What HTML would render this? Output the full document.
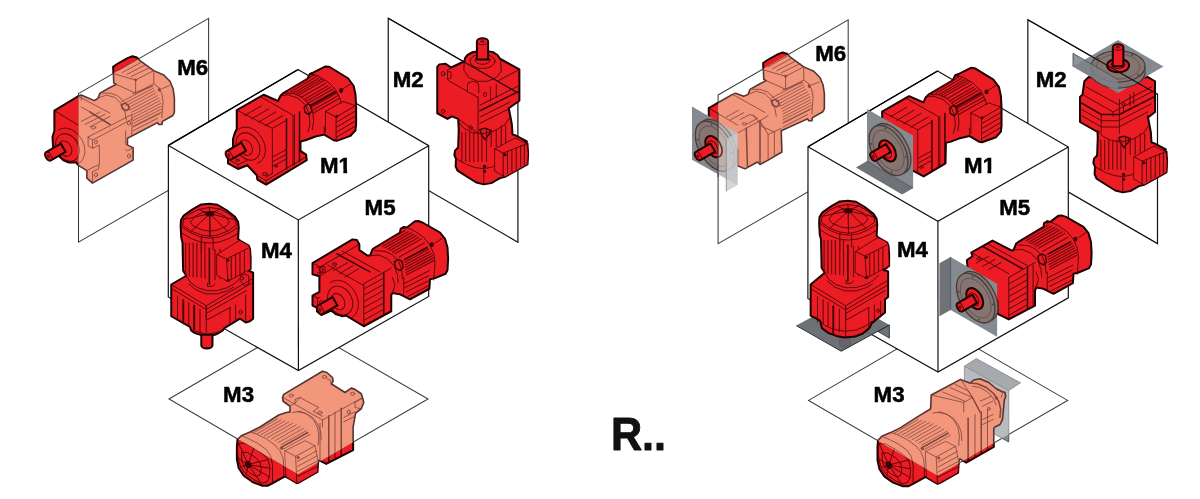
<!DOCTYPE html>
<html lang="en">
<head>
<meta charset="utf-8">
<title>R.. mounting positions M1–M6</title>
<style>
html,body{margin:0;padding:0;background:#fff;}
body{width:1200px;height:499px;overflow:hidden;position:relative;font-family:"Liberation Sans",Arial,sans-serif;}
svg{position:absolute;left:0;top:0;display:block;}
.ln6{fill:none;stroke:#3a3a3a;stroke-width:1.05;}
.lnb{fill:none;stroke:#000;stroke-width:1.3;}
.ln{fill:none;stroke:#111;stroke-width:1.2;stroke-linejoin:miter;}
.cube{fill:#fff;stroke:#111;stroke-width:1.2;}
.wh{fill:#fff;stroke:none;}
.ln2{fill:none;stroke:#333;stroke-width:.9;}
.wl{fill:#858a90;stroke:none;}
.ws{fill:#6f7276;stroke:none;}
.fd{fill:#85746f;stroke:#453c3c;stroke-width:1.3;}
.ns{stroke:none;}
.wl9{fill:#64686d;fill-opacity:.94;stroke:none;}
.ws3{fill:#a9adb2;stroke:#6e7176;stroke-width:.6;}
.sal .ws3{fill:#a6a9ad;}
.ws2{fill:#7e8288;fill-opacity:.85;stroke:none;}
.so{stroke:#222;stroke-width:.8;}
.wo{fill:none;stroke:#222;stroke-width:.9;}
.wo2{fill:none;stroke:#4c5055;stroke-width:.9;}
.sal .wo2{stroke:#8d9094;}
.sal .ws2{fill:#c9cacc;fill-opacity:.8;}
.fl{fill:none;stroke:#5a5050;stroke-width:.8;}
.fh{fill:#4a4040;stroke:none;}
.sal .rf{fill:#f2967c;stroke:#8a4a42;stroke-width:.8;}
.sal .wl{fill:#b9bbbe;}
.sal .ws{fill:#c3c4c6;}
.sal .fd{fill:#bdb0ad;stroke:#8a8080;}
.sal .fl{stroke:#9a9090;}
.sal .r{fill:#f2967c;stroke:#553434;stroke-width:1.6;}
.sal .d{stroke:#7d433b;stroke-width:.8;}
.sal .d2{stroke:#7a4640;}
.sal .dk{fill:#8a4a42;}
.lb{font-family:"Liberation Sans",Arial,sans-serif;font-weight:700;font-size:22.8px;fill:#000;stroke:#000;stroke-width:.55px;stroke-linejoin:round;}
.big{font-family:"Liberation Sans",Arial,sans-serif;font-weight:700;font-size:46px;fill:#111;stroke:#111;stroke-width:.9px;stroke-linejoin:round;}
.r{fill:#ec1c24;stroke:#1c0000;stroke-width:2;stroke-linejoin:round;stroke-linecap:round;}
.rf{fill:#ec1c24;stroke:#4a0508;stroke-width:.8;stroke-linejoin:round;stroke-linecap:round;}
.d{fill:none;stroke:#4a0508;stroke-width:.9;stroke-linejoin:round;stroke-linecap:round;}
.fn{fill:none;stroke:#6e080c;stroke-width:1.15;stroke-linecap:round;}
.sal .fn{stroke:#a05a4e;stroke-width:1;}
.d2{fill:none;stroke:#3a0306;stroke-width:1.5;stroke-linecap:round;}
.dk{fill:#3a0306;stroke:none;}
.o{fill:none;stroke:#1e0000;stroke-width:1.8;stroke-linejoin:round;stroke-linecap:round;}
.gp{fill:#8c8c8c;fill-opacity:.75;stroke:#444;stroke-width:.6;}
.gd{fill:#9a8f8f;stroke:#3a3030;stroke-width:.8;}
</style>
</head>
<body>
<svg width="1200" height="499" viewBox="0 0 1200 499">
<rect x="0" y="0" width="1200" height="499" fill="#fff"/>
<g transform="translate(0,0)">
<polygon points="78.5,93.6 208.6,18.4 208.6,167.2 78.5,242.2" class="ln6" />
<polygon points="388.25,18.25 517.9,92.9 517.9,242.2 388.25,167.2" class="ln" />
<polygon points="169,399 298,324 428,399 298,474" class="ln6" />
<clipPath id="c6L"><polygon points="78.5,93.6 208.6,18.4 208.6,167.2 78.5,242.2" class="" /></clipPath>
<clipPath id="c3L"><polygon points="169,399 298,324 428,399 298,474" class="" /></clipPath>
<clipPath id="o6L"><path clip-rule="evenodd" d="M-700 -50H1300V600H-700Z M78.5 93.6 L208.6 18.4 L208.6 167.2 L78.5 242.2Z"/></clipPath>
<clipPath id="o3L"><path clip-rule="evenodd" d="M-700 -50H1300V600H-700Z M169 399 L298 324 L428 399 L298 474Z"/></clipPath>
<g clip-path="url(#o6L)"><g ><path class="r" d="M98.12 98.12 L100 93.12 L110 87.5 L116.25 84.38 L113.75 83.12 L113.12 66.88 L117.5 63.75 L127.5 58.12 L132.5 56.25 L136.88 57.5 L140 60.62 L153.75 70.62 L163.75 75 L170 81.25 L173.12 88.75 L174.38 97.5 L174.38 112 L173.75 113.88 L172.5 115.75 L162.5 121.38 L161.88 124.5 L158.75 124.5 L157.5 122.62 L127.5 138.25 L127.5 145.12 L133.12 147.62 L133.12 160.12 L92.5 183.12 L86.88 178.12 L86.88 170.62 L78.75 165.62 L76.25 162.5 L68.75 162.5 L63.12 160 L57.5 154.5 L53.12 147.62 L52.5 137 L54.38 130.75 L54.38 110.62 L78.12 96.25 L81.25 95 L94.38 100.62 Z"/>
<path class="d" d="M113.75 73.75 L135.62 80 L153.75 70.62"/>
<path class="d" d="M135.62 80 L135.62 93.12"/>
<path class="d" d="M116.25 84.38 L135.62 93.12 L153.75 83.75 L153.75 70.62"/>
<path class="d" d="M118.12 70.62 L136.88 60"/>
<path class="d" d="M122.5 72.5 L141.25 62.25"/>
<path class="d" d="M126.88 74.38 L145.62 64.75"/>
<path class="d" d="M131.25 76.5 L150 67.5"/>
<ellipse class="dk" cx="135.62" cy="80" rx="1.4" ry="1.4" transform="rotate(0 135.62 80)"/>
<path class="d" d="M153.75 83.75 L158.75 87.5 L161.88 93.75 L163.12 101.25 L162.5 108.75 L161.88 117.5"/>
<path class="d" d="M161.88 88.75 L169.38 85.62"/>
<ellipse class="dk" cx="159.38" cy="89.75" rx="1.6" ry="2" transform="rotate(0 159.38 89.75)"/>
<path class="fn" d="M121.25 101.88 L152.5 85.62"/>
<path class="fn" d="M123.75 103.75 L153.44 88.12"/>
<path class="fn" d="M126.25 105.62 L154.38 90.62"/>
<path class="fn" d="M128.12 107.81 L155.94 93.12"/>
<path class="fn" d="M130 110 L157.5 95.62"/>
<path class="fn" d="M131.25 112.5 L158.75 98.12"/>
<path class="fn" d="M132.5 115 L160 100.62"/>
<path class="fn" d="M132.81 117.81 L160.62 103.44"/>
<path class="fn" d="M133.12 120.62 L161.25 106.25"/>
<path class="fn" d="M133.12 123.44 L161.56 109.06"/>
<path class="fn" d="M133.12 126.25 L161.88 111.88"/>
<path class="d" d="M132.5 93.75 L152.5 86.25"/>
<path class="d2" d="M121.25 105 L125 103.12 L128.12 105 L129.38 108.75 L126.25 110.62 L122.5 108.75 Z"/>
<path class="d" d="M98.12 98.12 L106.25 95 L115 97.5 L121.25 103.75 L125 112.5 L126.25 120"/>
<path class="d" d="M102.5 93.12 L110 93.12 L117.5 95.62 L123.75 101.25"/>
<path class="d" d="M133.12 130.75 L157.5 118.25"/>
<path class="d" d="M133.12 127 L160 113.5"/>
<path class="d" d="M54.38 110.62 L78.12 125"/>
<path class="d" d="M78.12 96.25 L110 113.12"/>
<path class="d" d="M81.25 95 L81.25 100"/>
<path class="d" d="M88.12 137 L131.88 114.5 L131.88 135.75 L127.5 138.25"/>
<path class="d" d="M88.12 137 L92.5 140.12 L92.5 148.25 L99.38 145.12 L99.38 164.5"/>
<path class="d" d="M92.5 140.12 L132.5 118.88"/>
<path class="d" d="M88.12 137 L88.12 145.75 L92.5 148.25"/>
<path class="d" d="M86.88 170.62 L93.75 166.88 L98.75 165"/>
<path class="d" d="M92.5 171.88 L98.75 168.75 L98.75 165"/>
<path class="d" d="M92.5 171.88 L92.5 183.12"/>
<ellipse class="d" cx="96" cy="142" rx="1.5" ry="2" transform="rotate(20 96 142)"/>
<ellipse class="d" cx="129" cy="123.25" rx="1.5" ry="2" transform="rotate(20 129 123.25)"/>
<ellipse class="d" cx="129" cy="156" rx="1.5" ry="2" transform="rotate(20 129 156)"/>
<ellipse class="d" cx="96" cy="175" rx="1.5" ry="2" transform="rotate(20 96 175)"/>
<ellipse class="d" cx="93.5" cy="127.62" rx="2.2" ry="1.4" transform="rotate(0 93.5 127.62)"/>
<path class="d" d="M127.5 145.12 L125.62 144.25 L125.62 130.75"/>
<path class="d" d="M133.12 147.62 L127.5 150.75 L125.62 149.5"/>
<path class="d" d="M81.25 121.38 L100 112"/>
<path class="d" d="M85 124.5 L105 114.25"/>
<path class="d" d="M90 126.75 L110 116.38"/>
<path class="d2" d="M90 112 L110 124.5"/>
<path class="d" d="M81.25 107 L90 112"/>
<path class="d" d="M58.19 130.31 L60.3 129.08 L62.65 128.35 L65.19 128.12 L67.83 128.42 L70.5 129.23 L73.13 130.53 L75.65 132.28 L77.98 134.43 L80.05 136.93 L81.81 139.69 L83.21 142.65 L84.2 145.72 L84.77 148.81 L84.89 151.83 L84.56 154.7 L83.78 157.35 L82.6 159.68 L81.02 161.64 L79.11 163.17 L76.91 164.23"/>
<ellipse class="d" cx="67.5" cy="147.5" rx="14.5" ry="11" transform="rotate(60 67.5 147.5)"/>
<ellipse class="d" cx="65.3" cy="148.6" rx="8.2" ry="6" transform="rotate(60 65.3 148.6)"/>
<path class="r" d="M50.90 160.41 L65.62 151.91 L60.82 143.59 L46.10 152.09 A4.8 2.7696 60.0 0 0 50.90 160.41Z"/>
<ellipse class="d" cx="48.5" cy="156.25" rx="4.8" ry="2.7696" transform="rotate(59.9993 48.5 156.25)"/>
<ellipse class="d" cx="48.5" cy="156.25" rx="1.344" ry="0.775488" transform="rotate(59.9993 48.5 156.25)"/></g></g>
<g class="sal" clip-path="url(#c6L)"><g ><path class="r" d="M98.12 98.12 L100 93.12 L110 87.5 L116.25 84.38 L113.75 83.12 L113.12 66.88 L117.5 63.75 L127.5 58.12 L132.5 56.25 L136.88 57.5 L140 60.62 L153.75 70.62 L163.75 75 L170 81.25 L173.12 88.75 L174.38 97.5 L174.38 112 L173.75 113.88 L172.5 115.75 L162.5 121.38 L161.88 124.5 L158.75 124.5 L157.5 122.62 L127.5 138.25 L127.5 145.12 L133.12 147.62 L133.12 160.12 L92.5 183.12 L86.88 178.12 L86.88 170.62 L78.75 165.62 L76.25 162.5 L68.75 162.5 L63.12 160 L57.5 154.5 L53.12 147.62 L52.5 137 L54.38 130.75 L54.38 110.62 L78.12 96.25 L81.25 95 L94.38 100.62 Z"/>
<path class="d" d="M113.75 73.75 L135.62 80 L153.75 70.62"/>
<path class="d" d="M135.62 80 L135.62 93.12"/>
<path class="d" d="M116.25 84.38 L135.62 93.12 L153.75 83.75 L153.75 70.62"/>
<path class="d" d="M118.12 70.62 L136.88 60"/>
<path class="d" d="M122.5 72.5 L141.25 62.25"/>
<path class="d" d="M126.88 74.38 L145.62 64.75"/>
<path class="d" d="M131.25 76.5 L150 67.5"/>
<ellipse class="dk" cx="135.62" cy="80" rx="1.4" ry="1.4" transform="rotate(0 135.62 80)"/>
<path class="d" d="M153.75 83.75 L158.75 87.5 L161.88 93.75 L163.12 101.25 L162.5 108.75 L161.88 117.5"/>
<path class="d" d="M161.88 88.75 L169.38 85.62"/>
<ellipse class="dk" cx="159.38" cy="89.75" rx="1.6" ry="2" transform="rotate(0 159.38 89.75)"/>
<path class="fn" d="M121.25 101.88 L152.5 85.62"/>
<path class="fn" d="M123.75 103.75 L153.44 88.12"/>
<path class="fn" d="M126.25 105.62 L154.38 90.62"/>
<path class="fn" d="M128.12 107.81 L155.94 93.12"/>
<path class="fn" d="M130 110 L157.5 95.62"/>
<path class="fn" d="M131.25 112.5 L158.75 98.12"/>
<path class="fn" d="M132.5 115 L160 100.62"/>
<path class="fn" d="M132.81 117.81 L160.62 103.44"/>
<path class="fn" d="M133.12 120.62 L161.25 106.25"/>
<path class="fn" d="M133.12 123.44 L161.56 109.06"/>
<path class="fn" d="M133.12 126.25 L161.88 111.88"/>
<path class="d" d="M132.5 93.75 L152.5 86.25"/>
<path class="d2" d="M121.25 105 L125 103.12 L128.12 105 L129.38 108.75 L126.25 110.62 L122.5 108.75 Z"/>
<path class="d" d="M98.12 98.12 L106.25 95 L115 97.5 L121.25 103.75 L125 112.5 L126.25 120"/>
<path class="d" d="M102.5 93.12 L110 93.12 L117.5 95.62 L123.75 101.25"/>
<path class="d" d="M133.12 130.75 L157.5 118.25"/>
<path class="d" d="M133.12 127 L160 113.5"/>
<path class="d" d="M54.38 110.62 L78.12 125"/>
<path class="d" d="M78.12 96.25 L110 113.12"/>
<path class="d" d="M81.25 95 L81.25 100"/>
<path class="d" d="M88.12 137 L131.88 114.5 L131.88 135.75 L127.5 138.25"/>
<path class="d" d="M88.12 137 L92.5 140.12 L92.5 148.25 L99.38 145.12 L99.38 164.5"/>
<path class="d" d="M92.5 140.12 L132.5 118.88"/>
<path class="d" d="M88.12 137 L88.12 145.75 L92.5 148.25"/>
<path class="d" d="M86.88 170.62 L93.75 166.88 L98.75 165"/>
<path class="d" d="M92.5 171.88 L98.75 168.75 L98.75 165"/>
<path class="d" d="M92.5 171.88 L92.5 183.12"/>
<ellipse class="d" cx="96" cy="142" rx="1.5" ry="2" transform="rotate(20 96 142)"/>
<ellipse class="d" cx="129" cy="123.25" rx="1.5" ry="2" transform="rotate(20 129 123.25)"/>
<ellipse class="d" cx="129" cy="156" rx="1.5" ry="2" transform="rotate(20 129 156)"/>
<ellipse class="d" cx="96" cy="175" rx="1.5" ry="2" transform="rotate(20 96 175)"/>
<ellipse class="d" cx="93.5" cy="127.62" rx="2.2" ry="1.4" transform="rotate(0 93.5 127.62)"/>
<path class="d" d="M127.5 145.12 L125.62 144.25 L125.62 130.75"/>
<path class="d" d="M133.12 147.62 L127.5 150.75 L125.62 149.5"/>
<path class="d" d="M81.25 121.38 L100 112"/>
<path class="d" d="M85 124.5 L105 114.25"/>
<path class="d" d="M90 126.75 L110 116.38"/>
<path class="d2" d="M90 112 L110 124.5"/>
<path class="d" d="M81.25 107 L90 112"/>
<path class="d" d="M58.19 130.31 L60.3 129.08 L62.65 128.35 L65.19 128.12 L67.83 128.42 L70.5 129.23 L73.13 130.53 L75.65 132.28 L77.98 134.43 L80.05 136.93 L81.81 139.69 L83.21 142.65 L84.2 145.72 L84.77 148.81 L84.89 151.83 L84.56 154.7 L83.78 157.35 L82.6 159.68 L81.02 161.64 L79.11 163.17 L76.91 164.23"/>
<ellipse class="d" cx="67.5" cy="147.5" rx="14.5" ry="11" transform="rotate(60 67.5 147.5)"/>
<ellipse class="d" cx="65.3" cy="148.6" rx="8.2" ry="6" transform="rotate(60 65.3 148.6)"/>
<path class="r" d="M50.90 160.41 L65.62 151.91 L60.82 143.59 L46.10 152.09 A4.8 2.7696 60.0 0 0 50.90 160.41Z"/>
<ellipse class="d" cx="48.5" cy="156.25" rx="4.8" ry="2.7696" transform="rotate(59.9993 48.5 156.25)"/>
<ellipse class="d" cx="48.5" cy="156.25" rx="1.344" ry="0.775488" transform="rotate(59.9993 48.5 156.25)"/></g></g>
<g clip-path="url(#o3L)"><g ><path class="r" d="M286.25 412.5 L290 411.88 L290 406.25 L283.12 401.25 L282.5 397.5 L283.75 394.38 L322.5 371.25 L326.88 372.5 L332.5 377.5 L333.12 381.25 L331.25 383.75 L345 392.5 L351.25 388.12 L355 389.38 L361.25 393.75 L362.5 397.5 L363.75 402.5 L361.25 408.75 L355.62 413.12 L353.12 427 L353.12 450.12 L326.25 463.88 L318.75 460.12 L318.12 461.38 L317.5 472 L300 482 L296.88 483.25 L286.25 477 L285 476.38 L272.5 483.25 L267.5 485.75 L262.5 485.75 L252.5 482 L243.75 475.75 L238.75 468.25 L236.88 459.5 L236.88 445.75 L237.5 439.5 L241.25 435.75 L250 432 L260 427 L278.75 415 Z"/>
<path class="d" d="M283.12 397.5 L322.5 420 L362.5 397.5"/>
<path class="d" d="M322.5 420 L322.5 427"/>
<path class="d" d="M290 406.25 L295 403.12 L300 397.5 L318.75 407.5 L313.12 411.25 L322.5 416.25"/>
<path class="d" d="M295 403.12 L295 399.38 L300 397.5"/>
<ellipse class="d" cx="291.25" cy="395.62" rx="2.2" ry="1.4" transform="rotate(0 291.25 395.62)"/>
<ellipse class="d" cx="324.38" cy="376.88" rx="2.2" ry="1.4" transform="rotate(0 324.38 376.88)"/>
<ellipse class="d" cx="352.5" cy="393.75" rx="2.2" ry="1.4" transform="rotate(0 352.5 393.75)"/>
<ellipse class="d" cx="320" cy="412.5" rx="2.2" ry="1.4" transform="rotate(0 320 412.5)"/>
<ellipse class="d" cx="348.75" cy="411.88" rx="1.5" ry="2" transform="rotate(20 348.75 411.88)"/>
<path class="d" d="M326.88 378.75 L330.62 380.62 L331.25 383.75"/>
<path class="d" d="M355 402.5 L362.5 398.12"/>
<path class="d" d="M355 402.5 L355 407.5 L361.25 408.75"/>
<path class="d2" d="M328.75 415.75 L328.75 462"/>
<path class="d" d="M335 412 L335 458.88"/>
<path class="d2" d="M341.25 408.25 L341.25 455.75"/>
<path class="d" d="M320 423.25 L320 459.5"/>
<path class="d" d="M343.75 417.5 L355 411.88"/>
<path class="d" d="M343.75 421.88 L355 416.25"/>
<path class="d" d="M292.5 412.5 L300 411.25 L307.5 414.38 L313.75 420 L317.5 427.5 L318.75 435 L318.12 445"/>
<path class="d" d="M297.5 411.88 L305 413.12 L312.5 417.5 L317.5 423.75 L320.62 431.25 L321.25 440"/>
<path class="fn" d="M253.75 432.62 L277.5 418.88"/>
<path class="fn" d="M257.5 433.56 L281.25 419.81"/>
<path class="fn" d="M261.25 434.5 L285 420.75"/>
<path class="fn" d="M264.38 436.06 L288.75 422"/>
<path class="fn" d="M267.5 437.62 L292.5 423.25"/>
<path class="fn" d="M271.25 439.19 L296.25 424.81"/>
<path class="fn" d="M275 440.75 L300 426.38"/>
<path class="fn" d="M278.12 442.62 L303.12 428.56"/>
<path class="fn" d="M281.25 444.5 L306.25 430.75"/>
<path class="fn" d="M282.5 446.69 L308.12 432.62"/>
<path class="fn" d="M283.75 448.88 L310 434.5"/>
<path class="d2" d="M280.62 447.62 L307.5 432.62"/>
<path class="d" d="M248.12 464.5 L238.75 443.25"/>
<path class="d" d="M248.12 464.5 L253.75 448.25"/>
<path class="d" d="M248.12 464.5 L268.12 459.5"/>
<path class="d" d="M248.12 464.5 L269.38 477"/>
<path class="d" d="M248.12 464.5 L261.25 483.25"/>
<path class="d" d="M248.12 464.5 L246.25 474.5"/>
<path class="d" d="M248.12 464.5 L238.12 458.25"/>
<path class="d" d="M248.12 464.5 L270 468.25"/>
<path class="d" d="M248.12 464.5 L240.62 467"/>
<path class="d" d="M238.75 443.25 L245 443.25 L253.75 448.25 L262.5 453.88 L268.12 459.5 L270 468.25 L269.38 477 L266.88 482 L261.25 483.25 L253.75 479.5 L246.25 474.5 L240.62 467 L238.12 458.25 L237.5 449.5 Z"/>
<path class="d" d="M241.88 452 L247.5 452.62 L255 457 L260 462.62 L261.25 469.5 L260 475.12 L256.25 476.38 L250 473.25 L245 468.25 L241.88 461.38 Z"/>
<ellipse class="dk" cx="248.12" cy="464.5" rx="3.2" ry="3.8" transform="rotate(-20 248.12 464.5)"/>
<path class="d" d="M241.25 435.75 L247.5 438.25 L257.5 443.25 L266.25 449.5 L270.62 455.75 L272.5 464.5 L272.5 483.25"/>
<path class="d" d="M250 432 L256.25 433.88 L266.25 438.88 L275 445.12 L280 450.75 L283.12 458.25 L283.75 467 L283.75 477"/>
<path class="rf" d="M285 450.75 L305 440.75 L315 445.75 L318.12 461.38 L317.5 472 L300 482 L296.88 483.25 L286.25 477 Z"/>
<path class="d" d="M285 450.75 L295.62 456.38 L315 445.75"/>
<path class="d" d="M295.62 456.38 L296.88 483.25"/>
<path class="d" d="M297.5 461.38 L316.88 450.75"/>
<path class="d" d="M297.5 466.38 L317.25 455.75"/>
<path class="d" d="M297.5 471.38 L317.5 461"/>
<path class="d" d="M297.5 476.38 L317.5 466.38"/>
<ellipse class="dk" cx="298.12" cy="457.38" rx="1.5" ry="1.5" transform="rotate(0 298.12 457.38)"/>
<ellipse class="dk" cx="281.88" cy="448.25" rx="1.5" ry="1.5" transform="rotate(0 281.88 448.25)"/></g></g>
<g class="sal" clip-path="url(#c3L)"><g ><path class="r" d="M286.25 412.5 L290 411.88 L290 406.25 L283.12 401.25 L282.5 397.5 L283.75 394.38 L322.5 371.25 L326.88 372.5 L332.5 377.5 L333.12 381.25 L331.25 383.75 L345 392.5 L351.25 388.12 L355 389.38 L361.25 393.75 L362.5 397.5 L363.75 402.5 L361.25 408.75 L355.62 413.12 L353.12 427 L353.12 450.12 L326.25 463.88 L318.75 460.12 L318.12 461.38 L317.5 472 L300 482 L296.88 483.25 L286.25 477 L285 476.38 L272.5 483.25 L267.5 485.75 L262.5 485.75 L252.5 482 L243.75 475.75 L238.75 468.25 L236.88 459.5 L236.88 445.75 L237.5 439.5 L241.25 435.75 L250 432 L260 427 L278.75 415 Z"/>
<path class="d" d="M283.12 397.5 L322.5 420 L362.5 397.5"/>
<path class="d" d="M322.5 420 L322.5 427"/>
<path class="d" d="M290 406.25 L295 403.12 L300 397.5 L318.75 407.5 L313.12 411.25 L322.5 416.25"/>
<path class="d" d="M295 403.12 L295 399.38 L300 397.5"/>
<ellipse class="d" cx="291.25" cy="395.62" rx="2.2" ry="1.4" transform="rotate(0 291.25 395.62)"/>
<ellipse class="d" cx="324.38" cy="376.88" rx="2.2" ry="1.4" transform="rotate(0 324.38 376.88)"/>
<ellipse class="d" cx="352.5" cy="393.75" rx="2.2" ry="1.4" transform="rotate(0 352.5 393.75)"/>
<ellipse class="d" cx="320" cy="412.5" rx="2.2" ry="1.4" transform="rotate(0 320 412.5)"/>
<ellipse class="d" cx="348.75" cy="411.88" rx="1.5" ry="2" transform="rotate(20 348.75 411.88)"/>
<path class="d" d="M326.88 378.75 L330.62 380.62 L331.25 383.75"/>
<path class="d" d="M355 402.5 L362.5 398.12"/>
<path class="d" d="M355 402.5 L355 407.5 L361.25 408.75"/>
<path class="d2" d="M328.75 415.75 L328.75 462"/>
<path class="d" d="M335 412 L335 458.88"/>
<path class="d2" d="M341.25 408.25 L341.25 455.75"/>
<path class="d" d="M320 423.25 L320 459.5"/>
<path class="d" d="M343.75 417.5 L355 411.88"/>
<path class="d" d="M343.75 421.88 L355 416.25"/>
<path class="d" d="M292.5 412.5 L300 411.25 L307.5 414.38 L313.75 420 L317.5 427.5 L318.75 435 L318.12 445"/>
<path class="d" d="M297.5 411.88 L305 413.12 L312.5 417.5 L317.5 423.75 L320.62 431.25 L321.25 440"/>
<path class="fn" d="M253.75 432.62 L277.5 418.88"/>
<path class="fn" d="M257.5 433.56 L281.25 419.81"/>
<path class="fn" d="M261.25 434.5 L285 420.75"/>
<path class="fn" d="M264.38 436.06 L288.75 422"/>
<path class="fn" d="M267.5 437.62 L292.5 423.25"/>
<path class="fn" d="M271.25 439.19 L296.25 424.81"/>
<path class="fn" d="M275 440.75 L300 426.38"/>
<path class="fn" d="M278.12 442.62 L303.12 428.56"/>
<path class="fn" d="M281.25 444.5 L306.25 430.75"/>
<path class="fn" d="M282.5 446.69 L308.12 432.62"/>
<path class="fn" d="M283.75 448.88 L310 434.5"/>
<path class="d2" d="M280.62 447.62 L307.5 432.62"/>
<path class="d" d="M248.12 464.5 L238.75 443.25"/>
<path class="d" d="M248.12 464.5 L253.75 448.25"/>
<path class="d" d="M248.12 464.5 L268.12 459.5"/>
<path class="d" d="M248.12 464.5 L269.38 477"/>
<path class="d" d="M248.12 464.5 L261.25 483.25"/>
<path class="d" d="M248.12 464.5 L246.25 474.5"/>
<path class="d" d="M248.12 464.5 L238.12 458.25"/>
<path class="d" d="M248.12 464.5 L270 468.25"/>
<path class="d" d="M248.12 464.5 L240.62 467"/>
<path class="d" d="M238.75 443.25 L245 443.25 L253.75 448.25 L262.5 453.88 L268.12 459.5 L270 468.25 L269.38 477 L266.88 482 L261.25 483.25 L253.75 479.5 L246.25 474.5 L240.62 467 L238.12 458.25 L237.5 449.5 Z"/>
<path class="d" d="M241.88 452 L247.5 452.62 L255 457 L260 462.62 L261.25 469.5 L260 475.12 L256.25 476.38 L250 473.25 L245 468.25 L241.88 461.38 Z"/>
<ellipse class="dk" cx="248.12" cy="464.5" rx="3.2" ry="3.8" transform="rotate(-20 248.12 464.5)"/>
<path class="d" d="M241.25 435.75 L247.5 438.25 L257.5 443.25 L266.25 449.5 L270.62 455.75 L272.5 464.5 L272.5 483.25"/>
<path class="d" d="M250 432 L256.25 433.88 L266.25 438.88 L275 445.12 L280 450.75 L283.12 458.25 L283.75 467 L283.75 477"/>
<path class="rf" d="M285 450.75 L305 440.75 L315 445.75 L318.12 461.38 L317.5 472 L300 482 L296.88 483.25 L286.25 477 Z"/>
<path class="d" d="M285 450.75 L295.62 456.38 L315 445.75"/>
<path class="d" d="M295.62 456.38 L296.88 483.25"/>
<path class="d" d="M297.5 461.38 L316.88 450.75"/>
<path class="d" d="M297.5 466.38 L317.25 455.75"/>
<path class="d" d="M297.5 471.38 L317.5 461"/>
<path class="d" d="M297.5 476.38 L317.5 466.38"/>
<ellipse class="dk" cx="298.12" cy="457.38" rx="1.5" ry="1.5" transform="rotate(0 298.12 457.38)"/>
<ellipse class="dk" cx="281.88" cy="448.25" rx="1.5" ry="1.5" transform="rotate(0 281.88 448.25)"/></g></g>
<polygon points="298,69.6 428.7,145.7 428.7,296.4 298.4,370.6 168.3,297 168.4,145.4" class="cube" />
<polyline points="168.4,145.4 298.3,219.9 428.7,145.7" class="ln" />
<polyline points="298.3,219.9 298.4,370.6" class="ln" />
<polyline points="168.4,145.4 298,69.6" class="lnb" />
<g ><path class="r" d="M464.38 61.25 L451.25 67.5 L445.62 63.75 L439.38 64.38 L437.25 66.88 L437.25 113.25 L447.5 118.88 L451.88 116.38 L458.12 118.88 L458.75 129.5 L458.12 147.5 L455 150.62 L454.38 155 L456 158.75 L455.62 166.25 L457.5 170.62 L466.25 176.25 L476.25 182.5 L483.75 184.38 L491.25 183.12 L500 178.12 L505 176.88 L527.5 164.38 L528.12 153.75 L527.5 143.75 L525 141.25 L526.88 141.38 L515 135.12 L512.5 134.5 L511.88 124.5 L510 114.5 L508.75 108.25 L519.38 100.75 L519.38 69.38 L500 58.75 L497.5 55 L492.5 51.88 L482.5 50.62 L472.5 52.25 L467.5 55 L465 58.12 Z"/>
<path class="d" d="M464.38 61.25 L463.75 70 L468.75 77.5 L477.5 81.25 L487.5 81.25 L496.25 77.5 L501.25 71.25 L500.62 60"/>
<ellipse class="d" cx="482.5" cy="61.25" rx="12.5" ry="7.2" transform="rotate(0 482.5 61.25)"/>
<ellipse class="d" cx="482.5" cy="60" rx="7.5" ry="4.3" transform="rotate(0 482.5 60)"/>
<path class="d" d="M451.25 67.5 L447.5 70 L447.5 80 L478.12 97.5"/>
<path class="d" d="M519.38 69.38 L497.5 81.25"/>
<path class="d" d="M447.5 72.5 L450 71.25 L451.25 73.75 L450.62 78.12 L448.12 79.38"/>
<ellipse class="d" cx="443.12" cy="73.75" rx="1.8" ry="2.2" transform="rotate(0 443.12 73.75)"/>
<path class="d" d="M478.12 97 L478.12 133.25"/>
<path class="d" d="M478.12 133.25 L458.12 118.88"/>
<ellipse class="d" cx="443.12" cy="111.38" rx="1.6" ry="2" transform="rotate(0 443.12 111.38)"/>
<ellipse class="d" cx="470.62" cy="127.62" rx="1.6" ry="2" transform="rotate(0 470.62 127.62)"/>
<ellipse class="d" cx="485" cy="94.5" rx="1.6" ry="2" transform="rotate(0 485 94.5)"/>
<path class="d" d="M467.5 85 L468.75 82.5 L473.75 81.25 L478.12 83.12 L478.75 87.5 L478.75 92.5"/>
<path class="d" d="M467.5 85 L467.5 92"/>
<path class="d2" d="M480 110.75 L518.75 91.38"/>
<path class="d" d="M480 105.12 L517.5 86.38"/>
<path class="d" d="M480 117 L510 102"/>
<path class="d" d="M480 123.25 L508.75 108.88"/>
<path class="d" d="M490.62 87 L490.62 100.75"/>
<path class="d" d="M496.25 84.5 L496.25 97.62"/>
<path class="d" d="M458.75 122 L463.75 128.25 L472.5 132.62 L482.5 133.88 L495 130.75 L505 124.5 L510 117"/>
<path class="d2" d="M480 129.5 L485 128.25 L490 130.12 L490 133.25 L485 139.5 L481.25 134.5 Z"/>
<path class="fn" d="M461.88 132 L461.88 161.5"/>
<path class="fn" d="M465.62 132 L465.62 161.5"/>
<path class="fn" d="M469.75 132 L469.75 161.5"/>
<path class="fn" d="M473.75 132 L473.75 161.5"/>
<path class="fn" d="M478.12 132 L478.12 161.5"/>
<path class="fn" d="M481.88 132 L481.88 161.5"/>
<path class="fn" d="M486.5 129.5 L486.5 161.5"/>
<path class="fn" d="M491.25 129.5 L491.25 146.5"/>
<path class="fn" d="M496.25 129.5 L496.25 146.5"/>
<path class="fn" d="M501.25 125.75 L501.25 146.5"/>
<path class="fn" d="M505.62 125.75 L505.62 146.5"/>
<path class="d" d="M456 158.75 L466.25 164.38 L475 167.5 L483.75 168.75 L492.5 166.88 L495 165"/>
<path class="d" d="M483.75 168.75 L483.75 183.75"/>
<ellipse class="dk" cx="484.62" cy="166.5" rx="1.8" ry="1.8" transform="rotate(0 484.62 166.5)"/>
<ellipse class="dk" cx="484.62" cy="171.25" rx="1.5" ry="1.5" transform="rotate(0 484.62 171.25)"/>
<path class="rf" d="M495 148.75 L515 138.12 L526.88 143.75 L528.12 153.75 L527.5 164.38 L505 176.88 L495 171.25 Z"/>
<path class="d" d="M495 148.75 L503.12 153.12 L526.88 143.75"/>
<path class="d" d="M503.12 153.12 L503.12 175.62"/>
<path class="d" d="M507.5 151.29 L507.5 173.72"/>
<path class="d" d="M511.88 149.45 L511.88 171.45"/>
<path class="d" d="M516.25 147.61 L516.25 169.18"/>
<path class="d" d="M520.62 145.78 L520.62 166.9"/>
<path class="d" d="M524.38 144.2 L524.38 164.95"/>
<ellipse class="dk" cx="505" cy="154.75" rx="1.6" ry="1.6" transform="rotate(0 505 154.75)"/>
<path class="r" d="M476.90 41.50 L476.90 59.50 L488.10 59.50 L488.10 41.50 A5.6 3.2312 180.0 0 0 476.90 41.50Z"/>
<ellipse class="d" cx="482.5" cy="41.5" rx="5.6" ry="3.2312" transform="rotate(180 482.5 41.5)"/>
<ellipse class="d" cx="482.5" cy="41.5" rx="1.568" ry="0.904736" transform="rotate(180 482.5 41.5)"/></g>
<polyline points="388.25,18.25 517.9,92.9" class="ln" />
<g ><path class="r" d="M236.75 110.12 L263.62 94.75 L278 101 L280.5 95.75 L283 93.25 L307.38 78.88 L309.88 73.88 L313 72.62 L325.5 66.38 L329.25 66.75 L348 78.25 L353.62 85.75 L355.5 94.5 L356.12 105.75 L356.12 124 L355.5 130.25 L350.5 135.88 L336.75 140.88 L333.62 140.25 L324.25 134.62 L315.5 136.5 L305.5 140.25 L300.5 141.5 L300.5 150.88 L306.12 154.62 L306.75 160.25 L266.12 184.62 L257.38 179.62 L256.75 175.25 L247.38 165.25 L238 169 L228 163.38 L228 159 L231.12 156.5 L233 149 L233 139 L234.88 132.75 L236.75 129 Z"/>
<path class="d" d="M236.75 110.12 L272.38 128.38"/>
<path class="d" d="M244.88 115.5 L261.12 106"/>
<path class="d" d="M251.5 118.88 L268.62 108.88"/>
<path class="d" d="M258.25 122.25 L275.75 112"/>
<path class="d" d="M265.25 125.75 L283 115.5"/>
<path class="d" d="M260.5 96.75 L291.75 114.5"/>
<path class="d" d="M272.38 128.38 L272.38 173.38"/>
<path class="d" d="M272.38 128.38 L286.12 120.5"/>
<path class="d2" d="M286.5 119 L286.5 169"/>
<path class="d" d="M293 115.25 L293 165.88"/>
<path class="d" d="M294.5 114.62 L294.5 164.62"/>
<path class="d2" d="M299.5 112.12 L299.5 161.5"/>
<path class="d" d="M273 156.75 L286.12 149.62"/>
<path class="d" d="M273 161.5 L286.12 154.38"/>
<path class="d" d="M273 166.25 L286.12 159.12"/>
<ellipse class="d" cx="276.12" cy="165.88" rx="1.3" ry="1.3" transform="rotate(0 276.12 165.88)"/>
<path class="d" d="M257.38 175.88 L266.12 180.5 L306.12 156.75"/>
<path class="d" d="M266.12 180.5 L266.12 184.62"/>
<path class="d" d="M272.38 173.38 L266.12 177.12"/>
<ellipse class="d" cx="264.88" cy="174.25" rx="2.6" ry="1.5" transform="rotate(0 264.88 174.25)"/>
<path class="d" d="M228 159.25 L238 164.62 L247.38 160.25"/>
<path class="d" d="M238 164.62 L238 169"/>
<ellipse class="d" cx="237.38" cy="160.25" rx="1.8" ry="1" transform="rotate(0 237.38 160.25)"/>
<path class="d" d="M238.69 129.31 L240.8 128.08 L243.15 127.35 L245.69 127.12 L248.33 127.42 L251 128.23 L253.63 129.53 L256.15 131.28 L258.48 133.43 L260.55 135.93 L262.31 138.69 L263.71 141.65 L264.7 144.72 L265.27 147.81 L265.39 150.83 L265.06 153.7 L264.28 156.35 L263.1 158.68 L261.52 160.64 L259.61 162.17 L257.41 163.23"/>
<ellipse class="d" cx="248" cy="146.5" rx="14.5" ry="11" transform="rotate(60 248 146.5)"/>
<ellipse class="d" cx="245.8" cy="147.6" rx="8.2" ry="6" transform="rotate(60 245.8 147.6)"/>
<path class="r" d="M231.40 159.41 L246.12 150.91 L241.32 142.59 L226.60 151.09 A4.8 2.7696 60.0 0 0 231.40 159.41Z"/>
<ellipse class="d" cx="229" cy="155.25" rx="4.8" ry="2.7696" transform="rotate(59.9993 229 155.25)"/>
<ellipse class="d" cx="229" cy="155.25" rx="1.344" ry="0.775488" transform="rotate(59.9993 229 155.25)"/>
<path class="d" d="M280.5 95.75 L288 94.75 L298 98.25 L305.5 105.12 L309.25 114.5 L309.88 124.5 L308 132"/>
<path class="d" d="M283 93.25 L293 93.25 L301.75 97 L309.25 104.5 L313 113.25 L313.62 122 L312.38 129.5"/>
<path class="fn" d="M288 90.5 L314.25 75.12"/>
<path class="fn" d="M290.5 91.88 L316.75 76.56"/>
<path class="fn" d="M293 93.25 L319.25 78"/>
<path class="fn" d="M295.5 94.38 L321.75 79.12"/>
<path class="fn" d="M298 95.5 L324.25 80.25"/>
<path class="fn" d="M301.12 97.5 L326.12 83"/>
<path class="fn" d="M304.25 99.5 L328 85.75"/>
<path class="fn" d="M306.12 101.38 L330.5 87.31"/>
<path class="fn" d="M308 103.25 L333 88.88"/>
<path class="fn" d="M309.56 105.44 L334.88 90.94"/>
<path class="fn" d="M311.12 107.62 L336.75 93"/>
<path class="fn" d="M312.06 110.44 L338.31 95.5"/>
<path class="fn" d="M313 113.25 L339.88 98"/>
<path class="d2" d="M311.12 105.5 L335.5 92"/>
<path class="d" d="M309.88 73.88 L318 75.75 L328 82 L335.5 89.5 L339.88 98.25 L341.12 103.25"/>
<path class="d" d="M343 88.88 L350.5 83.88"/>
<ellipse class="dk" cx="341.12" cy="90.5" rx="2" ry="2.4" transform="rotate(0 341.12 90.5)"/>
<ellipse class="dk" cx="311.75" cy="73.88" rx="1.4" ry="1.4" transform="rotate(0 311.75 73.88)"/>
<path class="d2" d="M304.25 107 L308 103.88 L311.12 105.75 L311.75 111.38 L308.62 114.5 L304.88 112 Z"/>
<path class="d" d="M325.5 111.38 L343 101.38 L355.5 105.75"/>
<path class="d" d="M325.5 111.38 L336.12 117 L355.5 105.75"/>
<path class="d" d="M325.5 111.38 L325.5 132"/>
<path class="d" d="M336.12 117 L336.12 140.12"/>
<path class="d" d="M336.75 122 L355.5 111"/>
<path class="d" d="M336.75 127 L355.5 116"/>
<path class="d" d="M336.75 132 L355.5 121"/>
<path class="d" d="M336.75 137 L354.88 126.38"/>
<ellipse class="dk" cx="336.75" cy="116.38" rx="1.4" ry="1.6" transform="rotate(0 336.75 116.38)"/>
<path class="d" d="M324.25 134.62 L324.25 126.5"/></g>
<g ><path class="r" d="M209.38 203.75 L201.25 204.38 L192.5 209.38 L183.75 215.62 L181 220 L180.62 226.25 L181.25 237.5 L182.5 242.5 L183.12 270.75 L186.25 275.75 L171.25 284.5 L171.25 316.25 L190 326.88 L191.25 330.62 L195 333.12 L201.25 335 L212.5 335.62 L217.5 333.75 L222.5 330.62 L224.38 328.12 L238.75 319.38 L240 318.75 L245.62 322.5 L250 321.25 L253.12 318.75 L253.12 272.62 L248.75 270.75 L250.62 268.88 L250.62 257 L250 248.75 L248.75 245.62 L240 240.62 L238.12 238.75 L238.75 227.5 L238.12 221.88 L235 216.88 L226.25 210 L217.5 204.75 Z"/>
<path class="d" d="M209.75 213.75 L183.75 219.38"/>
<path class="d" d="M209.75 213.75 L198.75 209.38"/>
<path class="d" d="M209.75 213.75 L220 209"/>
<path class="d" d="M209.75 213.75 L235.62 220"/>
<path class="d" d="M209.75 213.75 L227.5 231.25"/>
<path class="d" d="M209.75 213.75 L210 236.25"/>
<path class="d" d="M209.75 213.75 L191.25 231.25"/>
<path class="d" d="M209.75 213.75 L209.38 207.5"/>
<path class="d" d="M209.75 213.75 L210 236.25"/>
<path class="d" d="M183.75 219.38 L190 213.75 L198.75 209.38 L209.38 207.5 L220 209 L228.75 213.75 L235.62 220 L236.25 225 L227.5 231.25 L217.5 235 L210 236.25 L201.25 235 L191.25 231.25 L183.12 225.62 Z"/>
<path class="d" d="M190.62 221.88 L195 216.25 L202.5 212.5 L210 211.5 L217.5 212.75 L225 216.25 L229.38 221.88 L226.25 226.25 L217.5 230 L210 231.25 L202.5 230 L193.75 226.25 Z"/>
<ellipse class="dk" cx="209.75" cy="213.75" rx="4.6" ry="2.6" transform="rotate(0 209.75 213.75)"/>
<path class="d" d="M181 226.25 L190 232.5 L200 236.88 L210 238.12 L220 236.88 L230 232.5 L238.75 226.88"/>
<path class="d" d="M181.25 232.5 L190 238.12 L200 241.88 L210 243.12 L220 241.88 L230 238.12 L238.5 233.12"/>
<path class="d" d="M201.25 236.25 L201.25 253.75"/>
<path class="d" d="M213.12 237.5 L213.12 250"/>
<path class="fn" d="M185.62 243.25 L185.62 275.75"/>
<path class="fn" d="M189.38 243.25 L189.38 276.2"/>
<path class="fn" d="M193.12 243.25 L193.12 276.65"/>
<path class="fn" d="M196.88 243.25 L196.88 277.1"/>
<path class="fn" d="M201.25 243.25 L201.25 277.62"/>
<path class="fn" d="M205 243.25 L205 278.07"/>
<path class="fn" d="M215 249.5 L215 279.75"/>
<path class="fn" d="M220 249.5 L220 278.75"/>
<path class="fn" d="M231.25 249.5 L231.25 276.5"/>
<path class="fn" d="M236.25 249.5 L236.25 275.5"/>
<path class="d2" d="M209.38 248.25 L209.38 283.88"/>
<path class="d2" d="M226.25 253.25 L226.25 280.75"/>
<ellipse class="dk" cx="227.5" cy="260.12" rx="1.7" ry="1.7" transform="rotate(0 227.5 260.12)"/>
<ellipse class="dk" cx="228.12" cy="280.38" rx="1.5" ry="1.5" transform="rotate(0 228.12 280.38)"/>
<path class="d" d="M186.25 275.75 L190 282 L197.5 287.62 L207.5 290.75 L217.5 290.5 L227.5 287.62 L235 283.25 L240 278.25"/>
<path class="d" d="M188.75 283.88 L196.25 290.12 L206.25 293.88 L217.5 293.88 L227.5 290.75 L233.75 287"/>
<path class="d" d="M207.5 283.25 L207.5 286.38 L212.5 286.38 L215 283.88"/>
<path class="rf" d="M217 254.5 L235 243.12 L240 240.62 L248.75 245.62 L250 248.75 L250.62 268.88 L228 281.25 L217 275.62 Z"/>
<path class="d" d="M217 254.5 L226.5 259 L249 247.75"/>
<path class="d" d="M226.5 259 L228 281.25"/>
<path class="fn" d="M231.25 257.62 L231.25 279.46"/>
<path class="fn" d="M235.62 255.44 L235.62 277.06"/>
<path class="fn" d="M240 253.25 L240 274.65"/>
<path class="fn" d="M244.38 251.06 L244.38 272.24"/>
<ellipse class="dk" cx="227.75" cy="260.25" rx="1.6" ry="1.6" transform="rotate(0 227.75 260.25)"/>
<ellipse class="dk" cx="228.25" cy="280.25" rx="1.4" ry="1.4" transform="rotate(0 228.25 280.25)"/>
<path class="d" d="M240 275.75 L243.75 273.88 L248.75 275.75 L248.75 283.88 L244.38 285.75 L240 280.75"/>
<ellipse class="d" cx="241.88" cy="278.25" rx="1.6" ry="2" transform="rotate(0 241.88 278.25)"/>
<path class="d" d="M171.25 284.5 L206.25 305.75 L253.12 278.25"/>
<path class="d" d="M173.12 289.5 L206.25 309.5 L252.5 282.62"/>
<path class="d" d="M206.25 305.75 L206.25 319"/>
<path class="d" d="M206.25 306.25 L206.25 334.38"/>
<path class="d" d="M177.5 296.12 L177.5 320.44"/>
<path class="d" d="M183.75 299.75 L183.75 324"/>
<path class="d" d="M188.75 302.65 L188.75 326.85"/>
<path class="d" d="M193.75 305.55 L193.75 329.7"/>
<path class="d" d="M200 309.18 L200 333.26"/>
<path class="d2" d="M183.12 300 L183.12 323.12"/>
<path class="d2" d="M194.38 305.62 L194.38 329.38"/>
<path class="d" d="M206.88 313.12 L246.25 290.62"/>
<path class="d" d="M206.88 320 L230 307.5"/>
<path class="d" d="M230 307.5 L230 324.38"/>
<path class="d" d="M235.62 305 L235.62 321.25"/>
<path class="d" d="M245.62 295 L245.62 322.5"/>
<ellipse class="d" cx="240.62" cy="312.12" rx="1.6" ry="2" transform="rotate(0 240.62 312.12)"/>
<path class="d" d="M191.25 330.62 L198.75 331.88 L206.25 334.38 L215 332.75 L222.5 330.62"/>
<path class="r" d="M212.48 345.25 L212.48 334.75 L201.28 334.75 L201.28 345.25 A5.6 3.2312 0.0 0 0 212.48 345.25Z"/></g>
<g ><path class="r" d="M312.5 263.12 L352.5 239.38 L356.88 240 L359.38 244.38 L359.38 250 L367.5 255.62 L370 255.62 L372.5 249.38 L375 247.5 L400 232.5 L400.62 228.75 L403.75 226.88 L406.88 227.5 L415 221.25 L418.12 221 L422.5 222.5 L440 232.5 L445 238.75 L447.5 247.5 L448.12 258.75 L447.5 270 L445.62 273.75 L435 278.12 L430 279.38 L429.38 288.75 L410 299.38 L400 294.38 L392.5 293.12 L391.25 295 L391.25 311.25 L363.75 326.25 L346.25 315.62 L342.5 316.25 L336.25 314.38 L331.25 310.62 L321.25 315 L316.88 311.25 L317.5 308.12 L312.5 305.62 L312.5 295.62 L319.38 291.88 L319.38 276.25 L312.5 274.38 L312.5 273.75 Z"/>
<path class="d" d="M312.5 263.12 L320 266.88 L359.38 244.38"/>
<path class="d" d="M320 266.88 L320 277"/>
<path class="d" d="M327.5 265 L363.75 285.62"/>
<path class="d2" d="M336.88 253.75 L370 271.88"/>
<path class="d" d="M342.5 251.25 L380 271.88"/>
<path class="d" d="M333.75 270.62 L347.5 262.75"/>
<path class="d" d="M339.38 273.75 L353.12 265.62"/>
<path class="d" d="M345 276.88 L358.75 268.75"/>
<ellipse class="d" cx="334.38" cy="264.12" rx="2" ry="1.3" transform="rotate(0 334.38 264.12)"/>
<ellipse class="d" cx="321.25" cy="269.62" rx="1.8" ry="2.2" transform="rotate(0 321.25 269.62)"/>
<path class="d" d="M316.88 267.5 L325 266.25 L325 271.88 L317.5 273.12"/>
<path class="d" d="M363.75 283.75 L363.75 326.25"/>
<path class="d" d="M363.75 283.75 L391.25 268.12"/>
<path class="d2" d="M383.75 272.5 L383.75 313.75"/>
<path class="d" d="M364.38 288.75 L383.5 278.12"/>
<path class="d" d="M364.38 295 L383.5 284.38"/>
<path class="d" d="M364.38 301.25 L383.5 290.62"/>
<path class="d" d="M364.38 307.5 L383.5 296.88"/>
<path class="d" d="M364.38 313.75 L383.5 303.12"/>
<path class="d" d="M364.38 320 L383.5 309.38"/>
<path class="d" d="M320 275.62 L336.25 266.25"/>
<path class="d" d="M330.35 282.56 L332.57 281.27 L335.04 280.5 L337.7 280.27 L340.47 280.58 L343.28 281.43 L346.04 282.79 L348.68 284.63 L351.12 286.89 L353.3 289.51 L355.15 292.42 L356.62 295.52 L357.66 298.74 L358.25 301.99 L358.38 305.16 L358.03 308.18 L357.22 310.95 L355.98 313.4 L354.32 315.46 L352.31 317.07 L350 318.18"/>
<ellipse class="d" cx="340.2" cy="300.562" rx="15.225" ry="11.55" transform="rotate(60 340.2 300.562)"/>
<ellipse class="d" cx="338" cy="301.663" rx="8.61" ry="6.3" transform="rotate(60 338 301.663)"/>
<path class="r" d="M322.65 313.91 L337.37 305.41 L332.57 297.09 L317.85 305.59 A4.8 2.7696 60.0 0 0 322.65 313.91Z"/>
<ellipse class="d" cx="320.25" cy="309.75" rx="4.8" ry="2.7696" transform="rotate(59.9993 320.25 309.75)"/>
<ellipse class="d" cx="320.25" cy="309.75" rx="1.344" ry="0.775488" transform="rotate(59.9993 320.25 309.75)"/>
<path class="d" d="M312.5 295.62 L317.5 298.12 L319.38 297.5"/>
<path class="d" d="M317.5 298.12 L317.5 308.12"/>
<ellipse class="d" cx="321.25" cy="302.25" rx="1.6" ry="1.8" transform="rotate(0 321.25 302.25)"/>
<path class="d" d="M370 255.62 L378.75 255 L387.5 258.75 L394.38 266.25 L397.5 275 L398.12 282.5"/>
<path class="d" d="M375 250.62 L385 251.25 L392.5 255 L398.75 261.88 L401.88 270 L402.5 278.75"/>
<path class="d2" d="M394.38 261.88 L398.12 259.38 L401.88 261.25 L403.12 267.5 L400 270.62 L395.62 268.12 Z"/>
<path class="fn" d="M380 245 L405 230.62"/>
<path class="fn" d="M382.5 246.38 L408.12 231.69"/>
<path class="fn" d="M385 247.75 L411.25 232.75"/>
<path class="fn" d="M387.5 249.19 L413.75 234.19"/>
<path class="fn" d="M390 250.62 L416.25 235.62"/>
<path class="fn" d="M392.5 252.19 L418.75 237.31"/>
<path class="fn" d="M395 253.75 L421.25 239"/>
<path class="fn" d="M399.38 256.88 L424.38 242.94"/>
<path class="fn" d="M403.75 260 L427.5 246.88"/>
<path class="fn" d="M404.38 262.5 L428.75 249.06"/>
<path class="fn" d="M405 265 L430 251.25"/>
<path class="fn" d="M405.31 267.5 L431.25 253.44"/>
<path class="fn" d="M405.62 270 L432.5 255.62"/>
<path class="fn" d="M405.94 272.5 L433.12 258.12"/>
<path class="fn" d="M406.25 275 L433.75 260.62"/>
<path class="d2" d="M405 259.38 L426.88 247.75"/>
<path class="d" d="M406.88 227.5 L415 231.25 L423.75 237.5 L430 245 L433.75 253.75 L435 262.5 L434.38 271.25 L433.75 280"/>
<path class="d" d="M435 243.12 L442.5 238.12"/>
<ellipse class="dk" cx="431.88" cy="244.75" rx="2" ry="2.4" transform="rotate(0 431.88 244.75)"/>
<ellipse class="dk" cx="404" cy="227.5" rx="1.6" ry="1.6" transform="rotate(0 404 227.5)"/>
<path class="d" d="M403.75 277.5 L403.75 296.25"/>
<path class="d" d="M403.75 283.75 L429.38 270.62"/>
<path class="d" d="M405 287.5 L428.75 275.62"/>
<path class="d" d="M406.25 291.88 L428.75 280.62"/>
<path class="d" d="M408.12 296.25 L428.75 285.62"/>
<path class="d" d="M392.5 293.12 L395 285 L392.5 277.5"/></g>
</g>
<g opacity=".999">
<text transform="translate(177.3 75.3) scale(.978 1)" class="lb">M6</text>
<text transform="translate(392.8 87) scale(.978 1)" class="lb">M2</text>
<text transform="translate(320 173) scale(.978 1)" class="lb">M1</text>
<rect x="338.4" y="169.55" width="4.95" height="4.6" fill="#fff"/>
<rect x="347.15" y="169.55" width="5" height="4.6" fill="#fff"/>
<text transform="translate(364.6 215) scale(.978 1)" class="lb">M5</text>
<text transform="translate(261 257.5) scale(.978 1)" class="lb">M4</text>
<text transform="translate(223.1 402) scale(.978 1)" class="lb">M3</text>
<g transform="translate(639.6,1.4)">
<polygon points="78.5,93.6 208.6,18.4 208.6,167.2 78.5,242.2" class="ln6" />
<polygon points="388.25,18.25 517.9,92.9 517.9,242.2 388.25,167.2" class="ln" />
<polygon points="169,399 298,324 428,399 298,474" class="ln6" />
<clipPath id="c6R"><polygon points="78.5,93.6 208.6,18.4 208.6,167.2 78.5,242.2" class="" /></clipPath>
<clipPath id="c3R"><polygon points="169,399 298,324 428,399 298,474" class="" /></clipPath>
<clipPath id="o6R"><path clip-rule="evenodd" d="M-700 -50H1300V600H-700Z M78.5 93.6 L208.6 18.4 L208.6 167.2 L78.5 242.2Z"/></clipPath>
<clipPath id="o3R"><path clip-rule="evenodd" d="M-700 -50H1300V600H-700Z M169 399 L298 324 L428 399 L298 474Z"/></clipPath>
<g clip-path="url(#o6R)"><g transform="translate(10.4 -5.15)"><path class="r" d="M98.12 98.12 L100 93.12 L110 87.5 L116.25 84.38 L113.75 83.12 L113.12 66.88 L117.5 63.75 L127.5 58.12 L132.5 56.25 L136.88 57.5 L140 60.62 L153.75 70.62 L163.75 75 L170 81.25 L173.12 88.75 L174.38 97.5 L174.38 112 L173.75 113.88 L172.5 115.75 L162.5 121.38 L161.88 124.5 L158.75 124.5 L157.5 122.62 L131.25 134.5 L131.88 155.75 L118.12 163.88 L110 168.25 L107.5 165.75 L95 172.62 L87.5 169.5 L87.5 153.25 L58.75 134.5 L58.75 115.75 L58.75 111.88 L82.5 98.12 L85.62 96.88 L93.75 100 Z"/>
<path class="d" d="M113.75 73.75 L135.62 80 L153.75 70.62"/>
<path class="d" d="M135.62 80 L135.62 93.12"/>
<path class="d" d="M116.25 84.38 L135.62 93.12 L153.75 83.75 L153.75 70.62"/>
<path class="d" d="M118.12 70.62 L136.88 60"/>
<path class="d" d="M122.5 72.5 L141.25 62.25"/>
<path class="d" d="M126.88 74.38 L145.62 64.75"/>
<path class="d" d="M131.25 76.5 L150 67.5"/>
<ellipse class="dk" cx="135.62" cy="80" rx="1.4" ry="1.4" transform="rotate(0 135.62 80)"/>
<path class="d" d="M153.75 83.75 L158.75 87.5 L161.88 93.75 L163.12 101.25 L162.5 108.75 L161.88 117.5"/>
<path class="d" d="M161.88 88.75 L169.38 85.62"/>
<ellipse class="dk" cx="159.38" cy="89.75" rx="1.6" ry="2" transform="rotate(0 159.38 89.75)"/>
<path class="fn" d="M121.25 101.88 L152.5 85.62"/>
<path class="fn" d="M123.75 103.75 L153.44 88.12"/>
<path class="fn" d="M126.25 105.62 L154.38 90.62"/>
<path class="fn" d="M128.12 107.81 L155.94 93.12"/>
<path class="fn" d="M130 110 L157.5 95.62"/>
<path class="fn" d="M131.25 112.5 L158.75 98.12"/>
<path class="fn" d="M132.5 115 L160 100.62"/>
<path class="fn" d="M132.81 117.81 L160.62 103.44"/>
<path class="fn" d="M133.12 120.62 L161.25 106.25"/>
<path class="fn" d="M133.12 123.44 L161.56 109.06"/>
<path class="fn" d="M133.12 126.25 L161.88 111.88"/>
<path class="d" d="M132.5 93.75 L152.5 86.25"/>
<path class="d2" d="M121.25 105 L125 103.12 L128.12 105 L129.38 108.75 L126.25 110.62 L122.5 108.75 Z"/>
<path class="d" d="M98.12 98.12 L106.25 95 L115 97.5 L121.25 103.75 L125 112.5 L126.25 120"/>
<path class="d" d="M102.5 93.12 L110 93.12 L117.5 95.62 L123.75 101.25"/>
<path class="d" d="M133.12 130.75 L157.5 118.25"/>
<path class="d" d="M133.12 127 L160 113.5"/>
<path class="d" d="M58.75 111.88 L87.5 128.75"/>
<path class="d" d="M82.5 98.12 L115 116.25"/>
<path class="d" d="M87.5 137 L96.25 132 L110 124.5 L118.12 119.5"/>
<path class="d2" d="M96.25 132 L97.5 170.75"/>
<path class="d2" d="M110 124.5 L110 167.62"/>
<path class="d" d="M118.12 138.25 L118.12 163.88"/>
<path class="d" d="M124.38 136.38 L124.38 160.12"/>
<path class="d" d="M110 124.5 L118.12 138.25 L131.25 132"/>
<path class="d" d="M103.12 118.25 L112.5 130.75 L125 135.75"/>
<path class="d" d="M90 123.25 L100 118.25 L107.5 122 L97.5 127.62"/>
<ellipse class="d" cx="94.38" cy="127.62" rx="2" ry="1.3" transform="rotate(0 94.38 127.62)"/>
<path class="d" d="M76.25 120.75 L88.75 113.88"/>
<path class="d" d="M80 123.88 L93.75 116.38"/>
<path class="wl" d="M42 110.25 L87.5 136.55 L87.5 188.85 L42 163.55 Z"/>
<ellipse class="fd" cx="67.731" cy="148.2" rx="27.5" ry="15.8675" transform="rotate(59.9993 67.731 148.2)"/>
<path class="fd ns" d="M78.45 173.765 L81.481 172.015 L53.981 124.385 L50.95 126.135 Z"/>
<path class="fl" d="M78.45 173.765 L81.481 172.015"/>
<path class="fl" d="M50.95 126.135 L53.981 124.385"/>
<ellipse class="fd" cx="64.7" cy="149.95" rx="27.5" ry="15.8675" transform="rotate(59.9993 64.7 149.95)"/>
<ellipse class="fl" cx="64.7" cy="149.95" rx="22" ry="12.694" transform="rotate(59.9993 64.7 149.95)"/>
<ellipse class="fh" cx="67.7436" cy="171.603" rx="0.9" ry="0.9" transform="rotate(0 67.7436 171.603)"/>
<ellipse class="fh" cx="47.4711" cy="143.505" rx="0.9" ry="0.9" transform="rotate(0 47.4711 143.505)"/>
<ellipse class="fh" cx="61.6564" cy="128.297" rx="0.9" ry="0.9" transform="rotate(0 61.6564 128.297)"/>
<ellipse class="fh" cx="81.9289" cy="156.395" rx="0.9" ry="0.9" transform="rotate(0 81.9289 156.395)"/>
<path class="ws2" d="M87.5 136.55 L87.5 188.85 L76.3 195.35 L76.3 143.05 Z"/>
<path class="wo2" d="M76.3 143.05 L76.3 195.35"/>
<ellipse class="r" cx="63.7" cy="150.45" rx="11.5" ry="7.13" transform="rotate(59.9993 63.7 150.45)"/>
<ellipse class="d" cx="62.6608" cy="151.05" rx="7.13" ry="4.278" transform="rotate(59.9993 62.6608 151.05)"/>
<path class="r" d="M50.45 163.82 L65.17 155.32 L60.47 147.18 L45.75 155.68 A4.7 2.7119 60.0 0 0 50.45 163.82Z"/>
<ellipse class="d" cx="48.1" cy="159.75" rx="4.7" ry="2.7119" transform="rotate(59.9993 48.1 159.75)"/>
<ellipse class="d" cx="48.1" cy="159.75" rx="1.316" ry="0.759332" transform="rotate(59.9993 48.1 159.75)"/></g></g>
<g class="sal" clip-path="url(#c6R)"><g transform="translate(10.4 -5.15)"><path class="r" d="M98.12 98.12 L100 93.12 L110 87.5 L116.25 84.38 L113.75 83.12 L113.12 66.88 L117.5 63.75 L127.5 58.12 L132.5 56.25 L136.88 57.5 L140 60.62 L153.75 70.62 L163.75 75 L170 81.25 L173.12 88.75 L174.38 97.5 L174.38 112 L173.75 113.88 L172.5 115.75 L162.5 121.38 L161.88 124.5 L158.75 124.5 L157.5 122.62 L131.25 134.5 L131.88 155.75 L118.12 163.88 L110 168.25 L107.5 165.75 L95 172.62 L87.5 169.5 L87.5 153.25 L58.75 134.5 L58.75 115.75 L58.75 111.88 L82.5 98.12 L85.62 96.88 L93.75 100 Z"/>
<path class="d" d="M113.75 73.75 L135.62 80 L153.75 70.62"/>
<path class="d" d="M135.62 80 L135.62 93.12"/>
<path class="d" d="M116.25 84.38 L135.62 93.12 L153.75 83.75 L153.75 70.62"/>
<path class="d" d="M118.12 70.62 L136.88 60"/>
<path class="d" d="M122.5 72.5 L141.25 62.25"/>
<path class="d" d="M126.88 74.38 L145.62 64.75"/>
<path class="d" d="M131.25 76.5 L150 67.5"/>
<ellipse class="dk" cx="135.62" cy="80" rx="1.4" ry="1.4" transform="rotate(0 135.62 80)"/>
<path class="d" d="M153.75 83.75 L158.75 87.5 L161.88 93.75 L163.12 101.25 L162.5 108.75 L161.88 117.5"/>
<path class="d" d="M161.88 88.75 L169.38 85.62"/>
<ellipse class="dk" cx="159.38" cy="89.75" rx="1.6" ry="2" transform="rotate(0 159.38 89.75)"/>
<path class="fn" d="M121.25 101.88 L152.5 85.62"/>
<path class="fn" d="M123.75 103.75 L153.44 88.12"/>
<path class="fn" d="M126.25 105.62 L154.38 90.62"/>
<path class="fn" d="M128.12 107.81 L155.94 93.12"/>
<path class="fn" d="M130 110 L157.5 95.62"/>
<path class="fn" d="M131.25 112.5 L158.75 98.12"/>
<path class="fn" d="M132.5 115 L160 100.62"/>
<path class="fn" d="M132.81 117.81 L160.62 103.44"/>
<path class="fn" d="M133.12 120.62 L161.25 106.25"/>
<path class="fn" d="M133.12 123.44 L161.56 109.06"/>
<path class="fn" d="M133.12 126.25 L161.88 111.88"/>
<path class="d" d="M132.5 93.75 L152.5 86.25"/>
<path class="d2" d="M121.25 105 L125 103.12 L128.12 105 L129.38 108.75 L126.25 110.62 L122.5 108.75 Z"/>
<path class="d" d="M98.12 98.12 L106.25 95 L115 97.5 L121.25 103.75 L125 112.5 L126.25 120"/>
<path class="d" d="M102.5 93.12 L110 93.12 L117.5 95.62 L123.75 101.25"/>
<path class="d" d="M133.12 130.75 L157.5 118.25"/>
<path class="d" d="M133.12 127 L160 113.5"/>
<path class="d" d="M58.75 111.88 L87.5 128.75"/>
<path class="d" d="M82.5 98.12 L115 116.25"/>
<path class="d" d="M87.5 137 L96.25 132 L110 124.5 L118.12 119.5"/>
<path class="d2" d="M96.25 132 L97.5 170.75"/>
<path class="d2" d="M110 124.5 L110 167.62"/>
<path class="d" d="M118.12 138.25 L118.12 163.88"/>
<path class="d" d="M124.38 136.38 L124.38 160.12"/>
<path class="d" d="M110 124.5 L118.12 138.25 L131.25 132"/>
<path class="d" d="M103.12 118.25 L112.5 130.75 L125 135.75"/>
<path class="d" d="M90 123.25 L100 118.25 L107.5 122 L97.5 127.62"/>
<ellipse class="d" cx="94.38" cy="127.62" rx="2" ry="1.3" transform="rotate(0 94.38 127.62)"/>
<path class="d" d="M76.25 120.75 L88.75 113.88"/>
<path class="d" d="M80 123.88 L93.75 116.38"/>
<path class="wl" d="M42 110.25 L87.5 136.55 L87.5 188.85 L42 163.55 Z"/>
<ellipse class="fd" cx="67.731" cy="148.2" rx="27.5" ry="15.8675" transform="rotate(59.9993 67.731 148.2)"/>
<path class="fd ns" d="M78.45 173.765 L81.481 172.015 L53.981 124.385 L50.95 126.135 Z"/>
<path class="fl" d="M78.45 173.765 L81.481 172.015"/>
<path class="fl" d="M50.95 126.135 L53.981 124.385"/>
<ellipse class="fd" cx="64.7" cy="149.95" rx="27.5" ry="15.8675" transform="rotate(59.9993 64.7 149.95)"/>
<ellipse class="fl" cx="64.7" cy="149.95" rx="22" ry="12.694" transform="rotate(59.9993 64.7 149.95)"/>
<ellipse class="fh" cx="67.7436" cy="171.603" rx="0.9" ry="0.9" transform="rotate(0 67.7436 171.603)"/>
<ellipse class="fh" cx="47.4711" cy="143.505" rx="0.9" ry="0.9" transform="rotate(0 47.4711 143.505)"/>
<ellipse class="fh" cx="61.6564" cy="128.297" rx="0.9" ry="0.9" transform="rotate(0 61.6564 128.297)"/>
<ellipse class="fh" cx="81.9289" cy="156.395" rx="0.9" ry="0.9" transform="rotate(0 81.9289 156.395)"/>
<path class="ws2" d="M87.5 136.55 L87.5 188.85 L76.3 195.35 L76.3 143.05 Z"/>
<path class="wo2" d="M76.3 143.05 L76.3 195.35"/>
<ellipse class="r" cx="63.7" cy="150.45" rx="11.5" ry="7.13" transform="rotate(59.9993 63.7 150.45)"/>
<ellipse class="d" cx="62.6608" cy="151.05" rx="7.13" ry="4.278" transform="rotate(59.9993 62.6608 151.05)"/>
<path class="r" d="M50.45 163.82 L65.17 155.32 L60.47 147.18 L45.75 155.68 A4.7 2.7119 60.0 0 0 50.45 163.82Z"/>
<ellipse class="d" cx="48.1" cy="159.75" rx="4.7" ry="2.7119" transform="rotate(59.9993 48.1 159.75)"/>
<ellipse class="d" cx="48.1" cy="159.75" rx="1.316" ry="0.759332" transform="rotate(59.9993 48.1 159.75)"/></g></g>
<polyline points="78.5,111 78.5,175.5" class="ln6" />
<g clip-path="url(#o3R)"><g transform="translate(1 -0.8)"><path class="wl" d="M323.8 365.65 L368.15 390 L368.15 441.4 L323.8 417 Z"/>
<path class="wo2" d="M323.8 365.65 L323.8 417"/>
<path class="wo2" d="M368.15 390 L368.15 441.4 L323.8 417"/>
<path class="ws3" d="M323.8 365.65 L368.15 390 L380 382.25 L335.65 357.9 Z"/>
<path class="r" d="M288.15 409.4 L290.02 408.15 L290.65 394.4 L320.02 378.77 L324.4 380.65 L329.4 382.52 L333.15 379.4 L339.4 378.15 L348.15 381.9 L355.65 388.15 L360.65 390.65 L364.4 391.9 L365.02 395.65 L363.77 399.4 L361.9 418.9 L359.4 423.9 L354.4 426.4 L353.15 427.65 L353.15 446.4 L325.65 462.02 L319.4 458.27 L318.12 461.38 L317.5 472 L300 482 L296.88 483.25 L286.25 477 L285 476.38 L272.5 483.25 L267.5 485.75 L262.5 485.75 L252.5 482 L243.75 475.75 L238.75 468.25 L236.88 459.5 L236.88 445.75 L237.5 439.5 L241.25 435.75 L250 432 L260 427 L278.75 415 Z"/>
<path class="d" d="M290.65 394.4 L323.15 401.9 L331.9 396.9 L320.02 378.77"/>
<path class="d" d="M301.9 391.27 L324.4 400.65"/>
<path class="d" d="M309.4 386.9 L331.9 396.9"/>
<path class="d" d="M314.4 383.77 L328.15 390.65 L333.15 399.4"/>
<path class="d" d="M323.15 401.9 L323.15 411.4"/>
<path class="d2" d="M331.9 396.9 L339.4 411.4"/>
<path class="d" d="M339.4 400.65 L350.65 395.65"/>
<path class="d" d="M341.9 405.65 L351.9 400.65"/>
<path class="d2" d="M329.4 382.52 L336.9 383.15 L345.65 386.9 L353.15 393.15 L358.15 400.65 L360.02 408.15 L359.4 416.9"/>
<path class="d" d="M331.9 385.65 L339.4 386.9 L346.9 391.27 L352.52 397.52 L355.65 404.4"/>
<ellipse class="d" cx="355.65" cy="397.27" rx="1.2" ry="1.6" transform="rotate(0 355.65 397.27)"/>
<ellipse class="d" cx="348.15" cy="408.15" rx="1.2" ry="1.6" transform="rotate(0 348.15 408.15)"/>
<path class="d" d="M360.65 390.65 L361.9 393.15 L360.65 396.9"/>
<path class="d2" d="M327.52 417.65 L327.52 460.77"/>
<path class="d" d="M334.4 413.9 L334.4 457.02"/>
<path class="d2" d="M340.65 411.4 L340.65 453.27"/>
<path class="d" d="M346.9 408.9 L346.9 449.52"/>
<path class="d" d="M341.9 418.9 L352.52 413.9"/>
<path class="d" d="M341.9 423.9 L352.52 418.9"/>
<path class="d" d="M292.5 412.5 L300 411.25 L307.5 414.38 L313.75 420 L317.5 427.5 L318.75 435 L318.12 445"/>
<path class="d" d="M297.5 411.88 L305 413.12 L312.5 417.5 L317.5 423.75 L320.62 431.25 L321.25 440"/>
<path class="fn" d="M253.75 432.62 L277.5 418.88"/>
<path class="fn" d="M257.5 433.56 L281.25 419.81"/>
<path class="fn" d="M261.25 434.5 L285 420.75"/>
<path class="fn" d="M264.38 436.06 L288.75 422"/>
<path class="fn" d="M267.5 437.62 L292.5 423.25"/>
<path class="fn" d="M271.25 439.19 L296.25 424.81"/>
<path class="fn" d="M275 440.75 L300 426.38"/>
<path class="fn" d="M278.12 442.62 L303.12 428.56"/>
<path class="fn" d="M281.25 444.5 L306.25 430.75"/>
<path class="fn" d="M282.5 446.69 L308.12 432.62"/>
<path class="fn" d="M283.75 448.88 L310 434.5"/>
<path class="d2" d="M280.62 447.62 L307.5 432.62"/>
<path class="d" d="M248.12 464.5 L238.75 443.25"/>
<path class="d" d="M248.12 464.5 L253.75 448.25"/>
<path class="d" d="M248.12 464.5 L268.12 459.5"/>
<path class="d" d="M248.12 464.5 L269.38 477"/>
<path class="d" d="M248.12 464.5 L261.25 483.25"/>
<path class="d" d="M248.12 464.5 L246.25 474.5"/>
<path class="d" d="M248.12 464.5 L238.12 458.25"/>
<path class="d" d="M248.12 464.5 L270 468.25"/>
<path class="d" d="M248.12 464.5 L240.62 467"/>
<path class="d" d="M238.75 443.25 L245 443.25 L253.75 448.25 L262.5 453.88 L268.12 459.5 L270 468.25 L269.38 477 L266.88 482 L261.25 483.25 L253.75 479.5 L246.25 474.5 L240.62 467 L238.12 458.25 L237.5 449.5 Z"/>
<path class="d" d="M241.88 452 L247.5 452.62 L255 457 L260 462.62 L261.25 469.5 L260 475.12 L256.25 476.38 L250 473.25 L245 468.25 L241.88 461.38 Z"/>
<ellipse class="dk" cx="248.12" cy="464.5" rx="3.2" ry="3.8" transform="rotate(-20 248.12 464.5)"/>
<path class="d" d="M241.25 435.75 L247.5 438.25 L257.5 443.25 L266.25 449.5 L270.62 455.75 L272.5 464.5 L272.5 483.25"/>
<path class="d" d="M250 432 L256.25 433.88 L266.25 438.88 L275 445.12 L280 450.75 L283.12 458.25 L283.75 467 L283.75 477"/>
<path class="rf" d="M285 450.75 L305 440.75 L315 445.75 L318.12 461.38 L317.5 472 L300 482 L296.88 483.25 L286.25 477 Z"/>
<path class="d" d="M285 450.75 L295.62 456.38 L315 445.75"/>
<path class="d" d="M295.62 456.38 L296.88 483.25"/>
<path class="d" d="M297.5 461.38 L316.88 450.75"/>
<path class="d" d="M297.5 466.38 L317.25 455.75"/>
<path class="d" d="M297.5 471.38 L317.5 461"/>
<path class="d" d="M297.5 476.38 L317.5 466.38"/>
<ellipse class="dk" cx="298.12" cy="457.38" rx="1.5" ry="1.5" transform="rotate(0 298.12 457.38)"/>
<ellipse class="dk" cx="281.88" cy="448.25" rx="1.5" ry="1.5" transform="rotate(0 281.88 448.25)"/></g></g>
<g class="sal" clip-path="url(#c3R)"><g transform="translate(1 -0.8)"><path class="wl" d="M323.8 365.65 L368.15 390 L368.15 441.4 L323.8 417 Z"/>
<path class="wo2" d="M323.8 365.65 L323.8 417"/>
<path class="wo2" d="M368.15 390 L368.15 441.4 L323.8 417"/>
<path class="ws3" d="M323.8 365.65 L368.15 390 L380 382.25 L335.65 357.9 Z"/>
<path class="r" d="M288.15 409.4 L290.02 408.15 L290.65 394.4 L320.02 378.77 L324.4 380.65 L329.4 382.52 L333.15 379.4 L339.4 378.15 L348.15 381.9 L355.65 388.15 L360.65 390.65 L364.4 391.9 L365.02 395.65 L363.77 399.4 L361.9 418.9 L359.4 423.9 L354.4 426.4 L353.15 427.65 L353.15 446.4 L325.65 462.02 L319.4 458.27 L318.12 461.38 L317.5 472 L300 482 L296.88 483.25 L286.25 477 L285 476.38 L272.5 483.25 L267.5 485.75 L262.5 485.75 L252.5 482 L243.75 475.75 L238.75 468.25 L236.88 459.5 L236.88 445.75 L237.5 439.5 L241.25 435.75 L250 432 L260 427 L278.75 415 Z"/>
<path class="d" d="M290.65 394.4 L323.15 401.9 L331.9 396.9 L320.02 378.77"/>
<path class="d" d="M301.9 391.27 L324.4 400.65"/>
<path class="d" d="M309.4 386.9 L331.9 396.9"/>
<path class="d" d="M314.4 383.77 L328.15 390.65 L333.15 399.4"/>
<path class="d" d="M323.15 401.9 L323.15 411.4"/>
<path class="d2" d="M331.9 396.9 L339.4 411.4"/>
<path class="d" d="M339.4 400.65 L350.65 395.65"/>
<path class="d" d="M341.9 405.65 L351.9 400.65"/>
<path class="d2" d="M329.4 382.52 L336.9 383.15 L345.65 386.9 L353.15 393.15 L358.15 400.65 L360.02 408.15 L359.4 416.9"/>
<path class="d" d="M331.9 385.65 L339.4 386.9 L346.9 391.27 L352.52 397.52 L355.65 404.4"/>
<ellipse class="d" cx="355.65" cy="397.27" rx="1.2" ry="1.6" transform="rotate(0 355.65 397.27)"/>
<ellipse class="d" cx="348.15" cy="408.15" rx="1.2" ry="1.6" transform="rotate(0 348.15 408.15)"/>
<path class="d" d="M360.65 390.65 L361.9 393.15 L360.65 396.9"/>
<path class="d2" d="M327.52 417.65 L327.52 460.77"/>
<path class="d" d="M334.4 413.9 L334.4 457.02"/>
<path class="d2" d="M340.65 411.4 L340.65 453.27"/>
<path class="d" d="M346.9 408.9 L346.9 449.52"/>
<path class="d" d="M341.9 418.9 L352.52 413.9"/>
<path class="d" d="M341.9 423.9 L352.52 418.9"/>
<path class="d" d="M292.5 412.5 L300 411.25 L307.5 414.38 L313.75 420 L317.5 427.5 L318.75 435 L318.12 445"/>
<path class="d" d="M297.5 411.88 L305 413.12 L312.5 417.5 L317.5 423.75 L320.62 431.25 L321.25 440"/>
<path class="fn" d="M253.75 432.62 L277.5 418.88"/>
<path class="fn" d="M257.5 433.56 L281.25 419.81"/>
<path class="fn" d="M261.25 434.5 L285 420.75"/>
<path class="fn" d="M264.38 436.06 L288.75 422"/>
<path class="fn" d="M267.5 437.62 L292.5 423.25"/>
<path class="fn" d="M271.25 439.19 L296.25 424.81"/>
<path class="fn" d="M275 440.75 L300 426.38"/>
<path class="fn" d="M278.12 442.62 L303.12 428.56"/>
<path class="fn" d="M281.25 444.5 L306.25 430.75"/>
<path class="fn" d="M282.5 446.69 L308.12 432.62"/>
<path class="fn" d="M283.75 448.88 L310 434.5"/>
<path class="d2" d="M280.62 447.62 L307.5 432.62"/>
<path class="d" d="M248.12 464.5 L238.75 443.25"/>
<path class="d" d="M248.12 464.5 L253.75 448.25"/>
<path class="d" d="M248.12 464.5 L268.12 459.5"/>
<path class="d" d="M248.12 464.5 L269.38 477"/>
<path class="d" d="M248.12 464.5 L261.25 483.25"/>
<path class="d" d="M248.12 464.5 L246.25 474.5"/>
<path class="d" d="M248.12 464.5 L238.12 458.25"/>
<path class="d" d="M248.12 464.5 L270 468.25"/>
<path class="d" d="M248.12 464.5 L240.62 467"/>
<path class="d" d="M238.75 443.25 L245 443.25 L253.75 448.25 L262.5 453.88 L268.12 459.5 L270 468.25 L269.38 477 L266.88 482 L261.25 483.25 L253.75 479.5 L246.25 474.5 L240.62 467 L238.12 458.25 L237.5 449.5 Z"/>
<path class="d" d="M241.88 452 L247.5 452.62 L255 457 L260 462.62 L261.25 469.5 L260 475.12 L256.25 476.38 L250 473.25 L245 468.25 L241.88 461.38 Z"/>
<ellipse class="dk" cx="248.12" cy="464.5" rx="3.2" ry="3.8" transform="rotate(-20 248.12 464.5)"/>
<path class="d" d="M241.25 435.75 L247.5 438.25 L257.5 443.25 L266.25 449.5 L270.62 455.75 L272.5 464.5 L272.5 483.25"/>
<path class="d" d="M250 432 L256.25 433.88 L266.25 438.88 L275 445.12 L280 450.75 L283.12 458.25 L283.75 467 L283.75 477"/>
<path class="rf" d="M285 450.75 L305 440.75 L315 445.75 L318.12 461.38 L317.5 472 L300 482 L296.88 483.25 L286.25 477 Z"/>
<path class="d" d="M285 450.75 L295.62 456.38 L315 445.75"/>
<path class="d" d="M295.62 456.38 L296.88 483.25"/>
<path class="d" d="M297.5 461.38 L316.88 450.75"/>
<path class="d" d="M297.5 466.38 L317.25 455.75"/>
<path class="d" d="M297.5 471.38 L317.5 461"/>
<path class="d" d="M297.5 476.38 L317.5 466.38"/>
<ellipse class="dk" cx="298.12" cy="457.38" rx="1.5" ry="1.5" transform="rotate(0 298.12 457.38)"/>
<ellipse class="dk" cx="281.88" cy="448.25" rx="1.5" ry="1.5" transform="rotate(0 281.88 448.25)"/></g></g>
<polygon points="298,69.6 428.7,145.7 428.7,296.4 298.4,370.6 168.3,297 168.4,145.4" class="cube" />
<polyline points="168.4,145.4 298.3,219.9 428.7,145.7" class="ln" />
<polyline points="298.3,219.9 298.4,370.6" class="ln" />
<polyline points="168.4,145.4 298,69.6" class="lnb" />
<g transform="translate(-0.6 6.6)"><path class="r" d="M479.12 69.5 L449.75 68.88 L445.38 73.25 L443.5 86.5 L441 89 L441 114 L458.5 124 L458.75 129.5 L458.12 147.5 L455 150.62 L454.38 155 L456 158.75 L455.62 166.25 L457.5 170.62 L466.25 176.25 L476.25 182.5 L483.75 184.38 L491.25 183.12 L500 178.12 L505 176.88 L527.5 164.38 L528.12 153.75 L527.5 143.75 L525 141.25 L526.88 141.38 L515 135.12 L512.5 134.5 L511.88 124.5 L510 114.5 L508.75 108.25 L509.75 109 L516 104 L516 73.25 L508.5 68.88 Z"/>
<path class="d" d="M443.5 86.5 L474.12 104 L516 82.12"/>
<path class="d" d="M474.12 104 L474.12 108.38"/>
<path class="d2" d="M442.88 95.25 L462.25 106.5 L480.38 106.5 L514.75 89"/>
<path class="d" d="M462.25 106.5 L462.25 124"/>
<path class="d" d="M480.38 91.5 L480.38 125.25"/>
<path class="d" d="M442.88 101.5 L462.25 112.75 L479.75 112.75 L512.25 95.88"/>
<path class="d" d="M442.88 107.75 L462.25 119 L479.75 119 L508.5 104"/>
<path class="d" d="M491 86.5 L491 97.75"/>
<path class="d" d="M494.75 84.62 L494.75 95.88"/>
<ellipse class="d" cx="484.5" cy="96.12" rx="1.4" ry="1.7" transform="rotate(0 484.5 96.12)"/>
<path class="d" d="M484.5 97.75 L484.5 105.25"/>
<path class="d" d="M447.25 79 L479.12 96.5 L512.25 79"/>
<path class="d" d="M458.75 122 L463.75 128.25 L472.5 132.62 L482.5 133.88 L495 130.75 L505 124.5 L510 117"/>
<path class="d2" d="M480 129.5 L485 128.25 L490 130.12 L490 133.25 L485 139.5 L481.25 134.5 Z"/>
<path class="fn" d="M461.88 132 L461.88 161.5"/>
<path class="fn" d="M465.62 132 L465.62 161.5"/>
<path class="fn" d="M469.75 132 L469.75 161.5"/>
<path class="fn" d="M473.75 132 L473.75 161.5"/>
<path class="fn" d="M478.12 132 L478.12 161.5"/>
<path class="fn" d="M481.88 132 L481.88 161.5"/>
<path class="fn" d="M486.5 129.5 L486.5 161.5"/>
<path class="fn" d="M491.25 129.5 L491.25 146.5"/>
<path class="fn" d="M496.25 129.5 L496.25 146.5"/>
<path class="fn" d="M501.25 125.75 L501.25 146.5"/>
<path class="fn" d="M505.62 125.75 L505.62 146.5"/>
<path class="d" d="M456 158.75 L466.25 164.38 L475 167.5 L483.75 168.75 L492.5 166.88 L495 165"/>
<path class="d" d="M483.75 168.75 L483.75 183.75"/>
<ellipse class="dk" cx="484.62" cy="166.5" rx="1.8" ry="1.8" transform="rotate(0 484.62 166.5)"/>
<ellipse class="dk" cx="484.62" cy="171.25" rx="1.5" ry="1.5" transform="rotate(0 484.62 171.25)"/>
<path class="rf" d="M495 148.75 L515 138.12 L526.88 143.75 L528.12 153.75 L527.5 164.38 L505 176.88 L495 171.25 Z"/>
<path class="d" d="M495 148.75 L503.12 153.12 L526.88 143.75"/>
<path class="d" d="M503.12 153.12 L503.12 175.62"/>
<path class="d" d="M507.5 151.29 L507.5 173.72"/>
<path class="d" d="M511.88 149.45 L511.88 171.45"/>
<path class="d" d="M516.25 147.61 L516.25 169.18"/>
<path class="d" d="M520.62 145.78 L520.62 166.9"/>
<path class="d" d="M524.38 144.2 L524.38 164.95"/>
<ellipse class="dk" cx="505" cy="154.75" rx="1.6" ry="1.6" transform="rotate(0 505 154.75)"/>
<path class="wl" d="M479 32 L524.4 58.5 L479.3 85 L434 58.6 Z"/>
<ellipse class="fd" cx="479.1" cy="64.5" rx="27" ry="15.579" transform="rotate(180 479.1 64.5)"/>
<path class="fd ns" d="M452.1 58.5 L452.1 64.5 L506.1 64.5 L506.1 58.5 Z"/>
<path class="fl" d="M452.1 58.5 L452.1 64.5"/>
<path class="fl" d="M506.1 58.5 L506.1 64.5"/>
<ellipse class="fd" cx="479.1" cy="58.5" rx="27" ry="15.579" transform="rotate(180 479.1 58.5)"/>
<ellipse class="fl" cx="479.1" cy="58.5" rx="21.6" ry="12.4632" transform="rotate(180 479.1 58.5)"/>
<ellipse class="fh" cx="459.195" cy="50.4578" rx="0.9" ry="0.9" transform="rotate(0 459.195 50.4578)"/>
<ellipse class="fh" cx="493.038" cy="47.0146" rx="0.9" ry="0.9" transform="rotate(0 493.038 47.0146)"/>
<ellipse class="fh" cx="499.005" cy="66.5422" rx="0.9" ry="0.9" transform="rotate(0 499.005 66.5422)"/>
<ellipse class="fh" cx="465.162" cy="69.9854" rx="0.9" ry="0.9" transform="rotate(0 465.162 69.9854)"/>
<path class="ws2" d="M434 58.6 L479.3 85 L479.3 71.7 L434 45.3 Z"/>
<path class="wo2" d="M434 45.3 L479.3 71.7"/>
<path class="wo2" d="M434 45.3 L434 58.6"/>
<ellipse class="r" cx="479.1" cy="57.5" rx="11" ry="6.82" transform="rotate(180 479.1 57.5)"/>
<ellipse class="d" cx="479.1" cy="56.3" rx="6.82" ry="4.092" transform="rotate(180 479.1 56.3)"/>
<path class="r" d="M473.80 39.30 L473.80 58.30 L484.40 58.30 L484.40 39.30 A5.3 3.0581 180.0 0 0 473.80 39.30Z"/>
<ellipse class="d" cx="479.1" cy="39.3" rx="5.3" ry="3.0581" transform="rotate(180 479.1 39.3)"/>
<ellipse class="d" cx="479.1" cy="39.3" rx="1.484" ry="0.856268" transform="rotate(180 479.1 39.3)"/></g>
<polyline points="388.25,18.25 517.9,92.9" class="ln" />
<g transform="translate(5.8 0)"><path class="r" d="M236.75 110.12 L263.62 94.75 L278 101 L280.5 95.75 L283 93.25 L307.38 78.88 L309.88 73.88 L313 72.62 L325.5 66.38 L329.25 66.75 L348 78.25 L353.62 85.75 L355.5 94.5 L356.12 105.75 L356.12 124 L355.5 130.25 L350.5 135.88 L336.75 140.88 L333.62 140.25 L324.25 134.62 L315.5 136.5 L305.5 140.25 L300.5 141.5 L300.12 161.88 L278.25 175 L268.88 170 L238 152.12 L236.75 129 Z"/>
<path class="d" d="M236.75 110.12 L272.38 128.38"/>
<path class="d" d="M244.88 115.5 L261.12 106"/>
<path class="d" d="M251.5 118.88 L268.62 108.88"/>
<path class="d" d="M258.25 122.25 L275.75 112"/>
<path class="d" d="M265.25 125.75 L283 115.5"/>
<path class="d" d="M260.5 96.75 L291.75 114.5"/>
<path class="d" d="M272.38 128.38 L272.38 171.88"/>
<path class="d" d="M272.38 128.38 L286.12 120.5"/>
<path class="d2" d="M286.5 119 L286.5 170"/>
<path class="d" d="M293 115.25 L293 165.88"/>
<path class="d" d="M294.5 114.62 L294.5 164.62"/>
<path class="d2" d="M299.5 112.12 L299.5 161.5"/>
<path class="d" d="M273 156.75 L286.12 149.62"/>
<path class="d" d="M273 161.5 L286.12 154.38"/>
<path class="d" d="M273 166.25 L286.12 159.12"/>
<ellipse class="d" cx="276.12" cy="165.88" rx="1.3" ry="1.3" transform="rotate(0 276.12 165.88)"/>
<path class="d" d="M280.5 95.75 L288 94.75 L298 98.25 L305.5 105.12 L309.25 114.5 L309.88 124.5 L308 132"/>
<path class="d" d="M283 93.25 L293 93.25 L301.75 97 L309.25 104.5 L313 113.25 L313.62 122 L312.38 129.5"/>
<path class="fn" d="M288 90.5 L314.25 75.12"/>
<path class="fn" d="M290.5 91.88 L316.75 76.56"/>
<path class="fn" d="M293 93.25 L319.25 78"/>
<path class="fn" d="M295.5 94.38 L321.75 79.12"/>
<path class="fn" d="M298 95.5 L324.25 80.25"/>
<path class="fn" d="M301.12 97.5 L326.12 83"/>
<path class="fn" d="M304.25 99.5 L328 85.75"/>
<path class="fn" d="M306.12 101.38 L330.5 87.31"/>
<path class="fn" d="M308 103.25 L333 88.88"/>
<path class="fn" d="M309.56 105.44 L334.88 90.94"/>
<path class="fn" d="M311.12 107.62 L336.75 93"/>
<path class="fn" d="M312.06 110.44 L338.31 95.5"/>
<path class="fn" d="M313 113.25 L339.88 98"/>
<path class="d2" d="M311.12 105.5 L335.5 92"/>
<path class="d" d="M309.88 73.88 L318 75.75 L328 82 L335.5 89.5 L339.88 98.25 L341.12 103.25"/>
<path class="d" d="M343 88.88 L350.5 83.88"/>
<ellipse class="dk" cx="341.12" cy="90.5" rx="2" ry="2.4" transform="rotate(0 341.12 90.5)"/>
<ellipse class="dk" cx="311.75" cy="73.88" rx="1.4" ry="1.4" transform="rotate(0 311.75 73.88)"/>
<path class="d2" d="M304.25 107 L308 103.88 L311.12 105.75 L311.75 111.38 L308.62 114.5 L304.88 112 Z"/>
<path class="d" d="M325.5 111.38 L343 101.38 L355.5 105.75"/>
<path class="d" d="M325.5 111.38 L336.12 117 L355.5 105.75"/>
<path class="d" d="M325.5 111.38 L325.5 132"/>
<path class="d" d="M336.12 117 L336.12 140.12"/>
<path class="d" d="M336.75 122 L355.5 111"/>
<path class="d" d="M336.75 127 L355.5 116"/>
<path class="d" d="M336.75 132 L355.5 121"/>
<path class="d" d="M336.75 137 L354.88 126.38"/>
<ellipse class="dk" cx="336.75" cy="116.38" rx="1.4" ry="1.6" transform="rotate(0 336.75 116.38)"/>
<path class="d" d="M324.25 134.62 L324.25 126.5"/>
<path class="ws" d="M221.6 159.7 L267.7 186.8 L256.7 193.2 L210.6 166.1 Z"/>
<path class="wl" d="M221.6 107.6 L267.7 134.2 L267.7 186.8 L221.6 159.7 Z"/>
<path class="wo2" d="M221.6 159.7 L267.7 186.8"/>
<ellipse class="fd" cx="246.131" cy="147.25" rx="27.5" ry="15.8675" transform="rotate(59.9993 246.131 147.25)"/>
<path class="fd ns" d="M256.85 172.815 L259.881 171.065 L232.381 123.435 L229.35 125.185 Z"/>
<path class="fl" d="M256.85 172.815 L259.881 171.065"/>
<path class="fl" d="M229.35 125.185 L232.381 123.435"/>
<ellipse class="fd" cx="243.1" cy="149" rx="27.5" ry="15.8675" transform="rotate(59.9993 243.1 149)"/>
<ellipse class="fl" cx="243.1" cy="149" rx="22" ry="12.694" transform="rotate(59.9993 243.1 149)"/>
<ellipse class="fh" cx="246.144" cy="170.653" rx="0.9" ry="0.9" transform="rotate(0 246.144 170.653)"/>
<ellipse class="fh" cx="225.871" cy="142.555" rx="0.9" ry="0.9" transform="rotate(0 225.871 142.555)"/>
<ellipse class="fh" cx="240.056" cy="127.347" rx="0.9" ry="0.9" transform="rotate(0 240.056 127.347)"/>
<ellipse class="fh" cx="260.329" cy="155.445" rx="0.9" ry="0.9" transform="rotate(0 260.329 155.445)"/>
<ellipse class="r" cx="242.1" cy="149.5" rx="11.5" ry="7.13" transform="rotate(59.9993 242.1 149.5)"/>
<ellipse class="d" cx="241.061" cy="150.1" rx="7.13" ry="4.278" transform="rotate(59.9993 241.061 150.1)"/>
<path class="r" d="M230.55 159.27 L245.27 150.77 L240.57 142.63 L225.85 151.13 A4.7 2.7119 60.0 0 0 230.55 159.27Z"/>
<ellipse class="d" cx="228.2" cy="155.2" rx="4.7" ry="2.7119" transform="rotate(59.9993 228.2 155.2)"/>
<ellipse class="d" cx="228.2" cy="155.2" rx="1.316" ry="0.759332" transform="rotate(59.9993 228.2 155.2)"/></g>
<g transform="translate(-1.1 -4.4)"><path class="r" d="M211.50 347.00 L211.50 338.00 L201.50 338.00 L201.50 347.00 A5 2.885 0.0 0 0 211.50 347.00Z"/>
<path class="ws so" d="M250.9 328 L250.9 341.1 L239.5 334.5 Z"/>
<path class="wl9" d="M205.9 302.4 L250.9 328 L202.75 354.25 L157.75 328.6 Z"/>
<path class="wo" d="M157.75 328.6 L202.75 354.25 L250.9 328"/>
<path class="r" d="M209.38 203.75 L201.25 204.38 L192.5 209.38 L183.75 215.62 L181 220 L180.62 226.25 L181.25 237.5 L182.5 242.5 L183.12 270.75 L186.25 275.75 L172.12 287.5 L172.12 318.62 L181.5 323.62 L183.38 331.12 L190.25 336.12 L199 339.25 L206.5 340.5 L216.5 339.5 L224 336.75 L230.88 331.12 L233.38 326.12 L246.5 315.5 L246.5 302.5 L249.62 300 L249.62 274.38 L245.25 273.12 L250.62 268.88 L250.62 257 L250 248.75 L248.75 245.62 L240 240.62 L238.12 238.75 L238.75 227.5 L238.12 221.88 L235 216.88 L226.25 210 L217.5 204.75 Z"/>
<path class="d" d="M209.75 213.75 L183.75 219.38"/>
<path class="d" d="M209.75 213.75 L198.75 209.38"/>
<path class="d" d="M209.75 213.75 L220 209"/>
<path class="d" d="M209.75 213.75 L235.62 220"/>
<path class="d" d="M209.75 213.75 L227.5 231.25"/>
<path class="d" d="M209.75 213.75 L210 236.25"/>
<path class="d" d="M209.75 213.75 L191.25 231.25"/>
<path class="d" d="M209.75 213.75 L209.38 207.5"/>
<path class="d" d="M209.75 213.75 L210 236.25"/>
<path class="d" d="M183.75 219.38 L190 213.75 L198.75 209.38 L209.38 207.5 L220 209 L228.75 213.75 L235.62 220 L236.25 225 L227.5 231.25 L217.5 235 L210 236.25 L201.25 235 L191.25 231.25 L183.12 225.62 Z"/>
<path class="d" d="M190.62 221.88 L195 216.25 L202.5 212.5 L210 211.5 L217.5 212.75 L225 216.25 L229.38 221.88 L226.25 226.25 L217.5 230 L210 231.25 L202.5 230 L193.75 226.25 Z"/>
<ellipse class="dk" cx="209.75" cy="213.75" rx="4.6" ry="2.6" transform="rotate(0 209.75 213.75)"/>
<path class="d" d="M181 226.25 L190 232.5 L200 236.88 L210 238.12 L220 236.88 L230 232.5 L238.75 226.88"/>
<path class="d" d="M181.25 232.5 L190 238.12 L200 241.88 L210 243.12 L220 241.88 L230 238.12 L238.5 233.12"/>
<path class="d" d="M201.25 236.25 L201.25 253.75"/>
<path class="d" d="M213.12 237.5 L213.12 250"/>
<path class="fn" d="M185.62 243.25 L185.62 275.75"/>
<path class="fn" d="M189.38 243.25 L189.38 276.2"/>
<path class="fn" d="M193.12 243.25 L193.12 276.65"/>
<path class="fn" d="M196.88 243.25 L196.88 277.1"/>
<path class="fn" d="M201.25 243.25 L201.25 277.62"/>
<path class="fn" d="M205 243.25 L205 278.07"/>
<path class="fn" d="M215 249.5 L215 279.75"/>
<path class="fn" d="M220 249.5 L220 278.75"/>
<path class="fn" d="M231.25 249.5 L231.25 276.5"/>
<path class="fn" d="M236.25 249.5 L236.25 275.5"/>
<path class="d2" d="M209.38 248.25 L209.38 283.88"/>
<path class="d2" d="M226.25 253.25 L226.25 280.75"/>
<ellipse class="dk" cx="227.5" cy="260.12" rx="1.7" ry="1.7" transform="rotate(0 227.5 260.12)"/>
<ellipse class="dk" cx="228.12" cy="280.38" rx="1.5" ry="1.5" transform="rotate(0 228.12 280.38)"/>
<path class="d" d="M186.25 275.75 L190 282 L197.5 287.62 L207.5 290.75 L217.5 290.5 L227.5 287.62 L235 283.25 L240 278.25"/>
<path class="d" d="M188.75 283.88 L196.25 290.12 L206.25 293.88 L217.5 293.88 L227.5 290.75 L233.75 287"/>
<path class="d" d="M207.5 283.25 L207.5 286.38 L212.5 286.38 L215 283.88"/>
<path class="rf" d="M217 254.5 L235 243.12 L240 240.62 L248.75 245.62 L250 248.75 L250.62 268.88 L228 281.25 L217 275.62 Z"/>
<path class="d" d="M217 254.5 L226.5 259 L249 247.75"/>
<path class="d" d="M226.5 259 L228 281.25"/>
<path class="fn" d="M231.25 257.62 L231.25 279.46"/>
<path class="fn" d="M235.62 255.44 L235.62 277.06"/>
<path class="fn" d="M240 253.25 L240 274.65"/>
<path class="fn" d="M244.38 251.06 L244.38 272.24"/>
<ellipse class="dk" cx="227.75" cy="260.25" rx="1.6" ry="1.6" transform="rotate(0 227.75 260.25)"/>
<ellipse class="dk" cx="228.25" cy="280.25" rx="1.4" ry="1.4" transform="rotate(0 228.25 280.25)"/>
<path class="d" d="M172.12 287.5 L207.12 308.75 L249.62 283.12"/>
<path class="d" d="M174 292.75 L207.12 312.75 L249 288.12"/>
<path class="d" d="M207.12 308.75 L207.12 322"/>
<path class="d" d="M207.12 309.25 L207.12 340.25"/>
<path class="d" d="M179 299.49 L179 324.84"/>
<path class="d" d="M184.62 302.75 L184.62 327.38"/>
<path class="d" d="M189.62 305.65 L189.62 329.62"/>
<path class="d" d="M195.25 308.91 L195.25 332.16"/>
<path class="d" d="M200.88 312.18 L200.88 334.69"/>
<path class="d2" d="M194.62 309.25 L194.62 336.75"/>
<path class="d" d="M207.75 316.12 L246.5 293.62"/>
<path class="d" d="M207.75 323 L230.25 310.5"/>
<path class="d" d="M230.25 310.5 L230.25 331.75"/>
<path class="d" d="M235.88 308 L235.88 323.62"/>
<path class="d" d="M242.12 304.25 L242.12 319.88"/>
<ellipse class="d" cx="239.62" cy="313.62" rx="1.3" ry="1.8" transform="rotate(0 239.62 313.62)"/>
<path class="d" d="M181.5 323.62 L186.5 328.62 L195.25 332.38 L206.5 334.25 L217.75 333 L226.5 329.25 L233.38 324.25"/></g>
<g transform="translate(3.9 -7)"><path class="r" d="M324 273.1 L323.38 265.6 L329 261.85 L327.75 258.1 L349 246.22 L368.38 256.23 L370 255.62 L372.5 249.38 L375 247.5 L400 232.5 L400.62 228.75 L403.75 226.88 L406.88 227.5 L415 221.25 L418.12 221 L422.5 222.5 L440 232.5 L445 238.75 L447.5 247.5 L448.12 258.75 L447.5 270 L445.62 273.75 L435 278.12 L430 279.38 L429.38 288.75 L410 299.38 L400 294.38 L392.5 293.12 L391.5 296.85 L391.5 311.23 L365.25 324.98 L354 319.35 L354 306.85 L324 290.6 L324 275.6 Z"/>
<path class="d" d="M327.75 258.1 L365.25 279.35"/>
<path class="d2" d="M339 251.85 L379 274.35"/>
<path class="d" d="M344 249.35 L384 271.23"/>
<path class="d" d="M332.75 268.73 L345.25 261.85"/>
<path class="d" d="M339 271.85 L351.5 264.98"/>
<path class="d" d="M345.25 274.98 L357.75 268.1"/>
<ellipse class="d" cx="335.25" cy="264.35" rx="2" ry="1.3" transform="rotate(0 335.25 264.35)"/>
<path class="d" d="M365.25 283.1 L365.25 324.98"/>
<path class="d" d="M365.25 283.1 L391.5 268.1"/>
<path class="d2" d="M384 273.1 L384 314.35"/>
<path class="d" d="M389.62 270.6 L389.62 311.85"/>
<path class="d" d="M365.88 289.35 L383.75 279.1"/>
<path class="d" d="M365.88 295.6 L383.75 285.35"/>
<path class="d" d="M365.88 301.85 L383.75 291.6"/>
<path class="d" d="M365.88 308.1 L383.75 297.85"/>
<path class="d" d="M365.88 314.35 L383.75 304.1"/>
<path class="d" d="M365.88 320.6 L383.75 310.35"/>
<path class="d" d="M370 255.62 L378.75 255 L387.5 258.75 L394.38 266.25 L397.5 275 L398.12 282.5"/>
<path class="d" d="M375 250.62 L385 251.25 L392.5 255 L398.75 261.88 L401.88 270 L402.5 278.75"/>
<path class="d2" d="M394.38 261.88 L398.12 259.38 L401.88 261.25 L403.12 267.5 L400 270.62 L395.62 268.12 Z"/>
<path class="fn" d="M380 245 L405 230.62"/>
<path class="fn" d="M382.5 246.38 L408.12 231.69"/>
<path class="fn" d="M385 247.75 L411.25 232.75"/>
<path class="fn" d="M387.5 249.19 L413.75 234.19"/>
<path class="fn" d="M390 250.62 L416.25 235.62"/>
<path class="fn" d="M392.5 252.19 L418.75 237.31"/>
<path class="fn" d="M395 253.75 L421.25 239"/>
<path class="fn" d="M399.38 256.88 L424.38 242.94"/>
<path class="fn" d="M403.75 260 L427.5 246.88"/>
<path class="fn" d="M404.38 262.5 L428.75 249.06"/>
<path class="fn" d="M405 265 L430 251.25"/>
<path class="fn" d="M405.31 267.5 L431.25 253.44"/>
<path class="fn" d="M405.62 270 L432.5 255.62"/>
<path class="fn" d="M405.94 272.5 L433.12 258.12"/>
<path class="fn" d="M406.25 275 L433.75 260.62"/>
<path class="d2" d="M405 259.38 L426.88 247.75"/>
<path class="d" d="M406.88 227.5 L415 231.25 L423.75 237.5 L430 245 L433.75 253.75 L435 262.5 L434.38 271.25 L433.75 280"/>
<path class="d" d="M435 243.12 L442.5 238.12"/>
<ellipse class="dk" cx="431.88" cy="244.75" rx="2" ry="2.4" transform="rotate(0 431.88 244.75)"/>
<ellipse class="dk" cx="404" cy="227.5" rx="1.6" ry="1.6" transform="rotate(0 404 227.5)"/>
<path class="d" d="M403.75 277.5 L403.75 296.25"/>
<path class="d" d="M403.75 283.75 L429.38 270.62"/>
<path class="d" d="M405 287.5 L428.75 275.62"/>
<path class="d" d="M406.25 291.88 L428.75 280.62"/>
<path class="d" d="M408.12 296.25 L428.75 285.62"/>
<path class="d" d="M392.5 293.12 L395 285 L392.5 277.5"/>
<path class="ws" d="M307.1 262.5 L307.1 315.6 L295.9 321.9 L295.9 268.8 Z"/>
<path class="wl" d="M307.1 262.5 L353.6 289.3 L353.6 342.4 L307.1 315.6 Z"/>
<path class="wo2" d="M307.1 262.5 L307.1 315.6"/>
<ellipse class="fd" cx="335.231" cy="301.95" rx="27.2" ry="15.6944" transform="rotate(59.9993 335.231 301.95)"/>
<path class="fd ns" d="M345.8 327.255 L348.831 325.505 L321.631 278.395 L318.6 280.145 Z"/>
<path class="fl" d="M345.8 327.255 L348.831 325.505"/>
<path class="fl" d="M318.6 280.145 L321.631 278.395"/>
<ellipse class="fd" cx="332.2" cy="303.7" rx="27.2" ry="15.6944" transform="rotate(59.9993 332.2 303.7)"/>
<ellipse class="fl" cx="332.2" cy="303.7" rx="21.76" ry="12.5555" transform="rotate(59.9993 332.2 303.7)"/>
<ellipse class="fh" cx="335.21" cy="325.117" rx="0.9" ry="0.9" transform="rotate(0 335.21 325.117)"/>
<ellipse class="fh" cx="315.159" cy="297.325" rx="0.9" ry="0.9" transform="rotate(0 315.159 297.325)"/>
<ellipse class="fh" cx="329.19" cy="282.283" rx="0.9" ry="0.9" transform="rotate(0 329.19 282.283)"/>
<ellipse class="fh" cx="349.241" cy="310.075" rx="0.9" ry="0.9" transform="rotate(0 349.241 310.075)"/>
<ellipse class="r" cx="331.2" cy="304.2" rx="11.5" ry="7.13" transform="rotate(59.9993 331.2 304.2)"/>
<ellipse class="d" cx="330.161" cy="304.8" rx="7.13" ry="4.278" transform="rotate(59.9993 330.161 304.8)"/>
<path class="r" d="M318.85 316.87 L333.57 308.37 L328.87 300.23 L314.15 308.73 A4.7 2.7119 60.0 0 0 318.85 316.87Z"/>
<ellipse class="d" cx="316.5" cy="312.8" rx="4.7" ry="2.7119" transform="rotate(59.9993 316.5 312.8)"/>
<ellipse class="d" cx="316.5" cy="312.8" rx="1.316" ry="0.759332" transform="rotate(59.9993 316.5 312.8)"/></g>
</g>
<text transform="translate(815.3 61.1) scale(.978 1)" class="lb">M6</text>
<text transform="translate(1035.8 87) scale(.978 1)" class="lb">M2</text>
<text transform="translate(964.1 173) scale(.978 1)" class="lb">M1</text>
<rect x="982.5" y="169.55" width="4.95" height="4.6" fill="#fff"/>
<rect x="991.25" y="169.55" width="5" height="4.6" fill="#fff"/>
<text transform="translate(999.2 215.3) scale(.978 1)" class="lb">M5</text>
<text transform="translate(896.9 256.6) scale(.978 1)" class="lb">M4</text>
<text transform="translate(873.6 401.8) scale(.978 1)" class="lb">M3</text>
<text transform="translate(610.9 449.6) scale(.94 1)" class="big">R..</text>
</g>
</svg>
</body>
</html>
